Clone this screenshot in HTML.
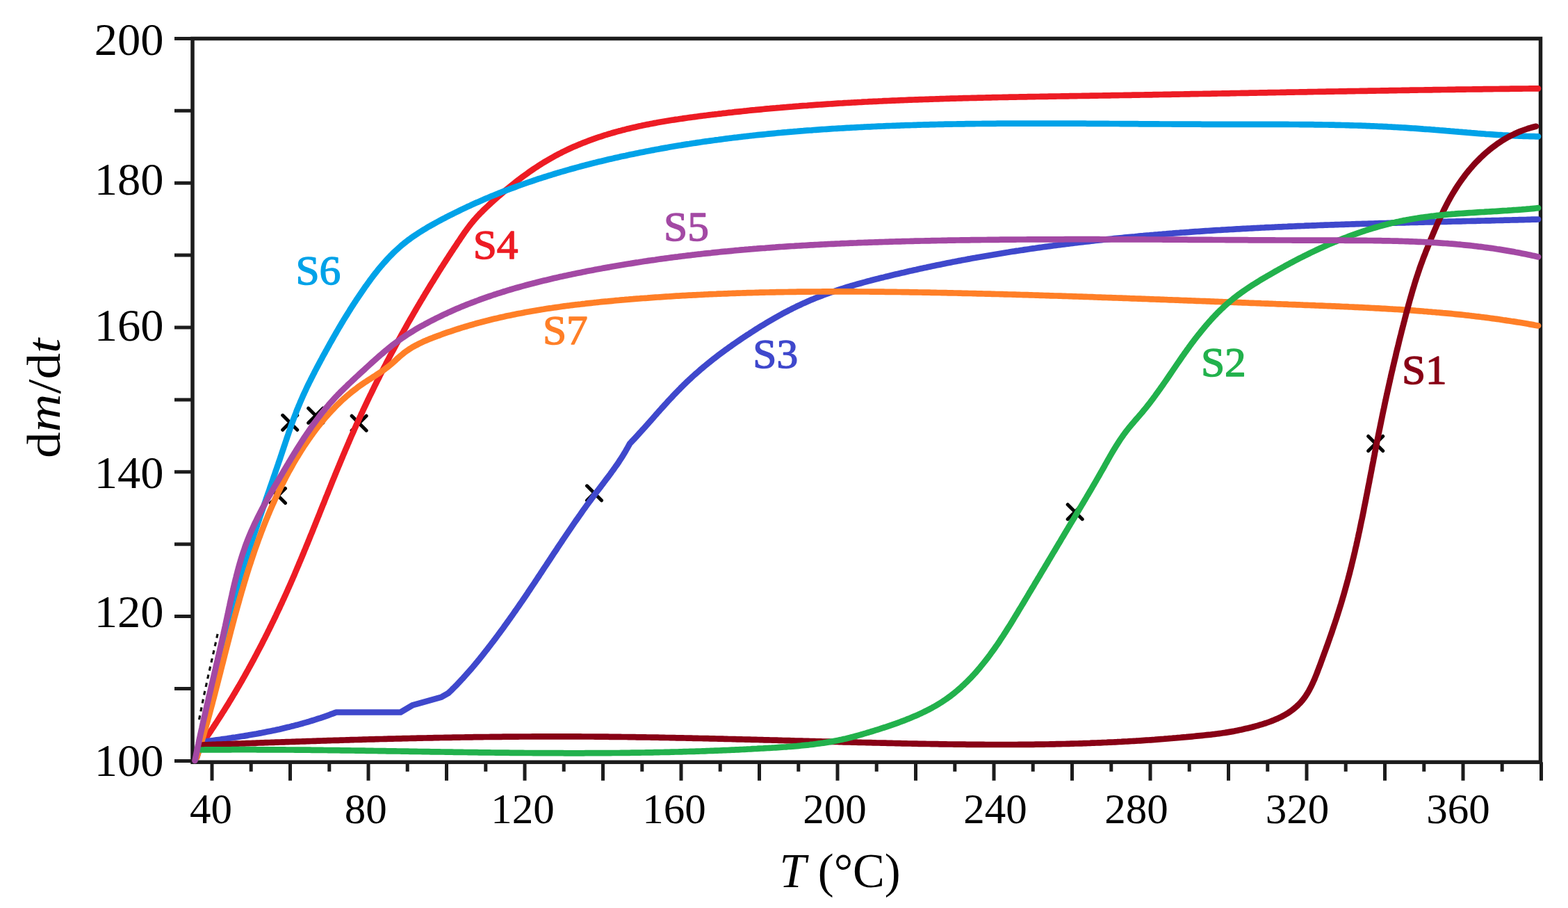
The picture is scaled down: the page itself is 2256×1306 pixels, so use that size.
<!DOCTYPE html>
<html><head><meta charset="utf-8"><title>dm/dt vs T</title>
<style>
html,body{margin:0;padding:0;background:#fff;overflow:hidden;}
#c{position:relative;width:2256px;height:1306px;overflow:hidden;background:#fff;}
#c svg{position:absolute;left:0;top:0;display:block;}
</style></head><body><div id="c">

<svg xmlns="http://www.w3.org/2000/svg" width="2256" height="1306" viewBox="0 0 2256 1306">
<rect x="0" y="0" width="2256" height="1306" fill="#ffffff"/>
<path d="M251,1094.4 H277.0 M251,990.5 H277.0 M251,886.6 H277.0 M251,782.7 H277.0 M251,678.8 H277.0 M251,574.9 H277.0 M251,471.0 H277.0 M251,367.1 H277.0 M251,263.2 H277.0 M251,159.3 H277.0 M251,55.4 H277.0 M305.0,1096.2 V1122.7 M361.2,1096.2 V1109.7 M417.5,1096.2 V1122.7 M473.8,1096.2 V1109.7 M530.0,1096.2 V1122.7 M586.2,1096.2 V1109.7 M642.5,1096.2 V1122.7 M698.8,1096.2 V1109.7 M755.0,1096.2 V1122.7 M811.2,1096.2 V1109.7 M867.5,1096.2 V1122.7 M923.8,1096.2 V1109.7 M980.0,1096.2 V1122.7 M1036.2,1096.2 V1109.7 M1092.5,1096.2 V1122.7 M1148.8,1096.2 V1109.7 M1205.0,1096.2 V1122.7 M1261.2,1096.2 V1109.7 M1317.5,1096.2 V1122.7 M1373.8,1096.2 V1109.7 M1430.0,1096.2 V1122.7 M1486.2,1096.2 V1109.7 M1542.5,1096.2 V1122.7 M1598.8,1096.2 V1109.7 M1655.0,1096.2 V1122.7 M1711.2,1096.2 V1109.7 M1767.5,1096.2 V1122.7 M1823.8,1096.2 V1109.7 M1880.0,1096.2 V1122.7 M1936.2,1096.2 V1109.7 M1992.5,1096.2 V1122.7 M2048.8,1096.2 V1109.7 M2105.0,1096.2 V1122.7 M2161.2,1096.2 V1109.7 M2217.5,1096.2 V1122.7" stroke="#1c1c1c" stroke-width="5" fill="none"/>
<rect x="277.0" y="55.5" width="1939.5" height="1040.7" stroke="#1c1c1c" stroke-width="5.5" fill="none"/>
<path d="M406.7,597.3 L427.7,618.3 M427.7,597.3 L406.7,618.3 M443.7,587.2 L464.7,608.2 M464.7,587.2 L443.7,608.2 M506.1,598.2 L527.1,619.2 M527.1,598.2 L506.1,619.2 M389.5,702.5 L410.5,723.5 M410.5,702.5 L389.5,723.5 M844.5,698.8 L865.5,719.8 M865.5,698.8 L844.5,719.8 M1536.2,725.7 L1557.2,746.7 M1557.2,725.7 L1536.2,746.7 M1968.7,627.4 L1989.7,648.4 M1989.7,627.4 L1968.7,648.4" stroke="#000" stroke-width="5.0" fill="none" stroke-linecap="round"/>
<path d="M286.5,1035 L293.5,1000 L300.5,968 L308,935 L313.5,910" stroke="#111" stroke-width="3.2" fill="none" stroke-dasharray="6 6"/>
<path d="M294.0,1065.0 L295.7,1062.5 L297.4,1060.0 L299.1,1057.6 L300.8,1055.1 L302.5,1052.6 L304.1,1050.1 L305.8,1047.6 L307.5,1045.0 L309.1,1042.5 L310.8,1040.0 L312.4,1037.5 L314.0,1035.0 L315.7,1032.4 L317.3,1029.9 L318.9,1027.4 L320.5,1024.8 L322.1,1022.3 L323.7,1019.7 L325.3,1017.2 L326.9,1014.6 L328.5,1012.1 L330.0,1009.5 L331.6,1006.9 L333.1,1004.4 L334.7,1001.8 L336.2,999.2 L337.8,996.6 L339.3,994.1 L340.8,991.5 L342.3,988.9 L343.9,986.3 L345.4,983.7 L346.9,981.1 L348.4,978.5 L349.8,975.9 L351.3,973.3 L352.8,970.6 L354.3,968.0 L355.7,965.4 L357.2,962.8 L358.6,960.1 L360.1,957.5 L361.5,954.9 L363.0,952.2 L364.4,949.6 L365.8,947.0 L367.2,944.3 L368.6,941.7 L370.0,939.0 L371.4,936.3 L372.8,933.7 L374.2,931.0 L375.6,928.4 L377.0,925.7 L378.3,923.0 L379.7,920.3 L381.1,917.7 L382.4,915.0 L383.8,912.3 L385.1,909.6 L386.4,906.9 L387.8,904.2 L389.1,901.5 L390.4,898.8 L391.7,896.1 L393.1,893.4 L394.4,890.7 L395.7,888.0 L397.0,885.3 L398.2,882.6 L399.5,879.9 L400.8,877.2 L402.1,874.5 L403.3,871.7 L404.6,869.0 L405.9,866.3 L407.1,863.6 L408.4,860.8 L409.6,858.1 L410.9,855.4 L412.1,852.6 L413.3,849.9 L414.5,847.1 L415.8,844.4 L417.0,841.6 L418.2,838.9 L419.4,836.1 L420.6,833.4 L421.8,830.6 L423.0,827.9 L424.2,825.1 L425.3,822.4 L426.5,819.6 L427.7,816.8 L428.9,814.1 L430.0,811.3 L431.2,808.5 L432.4,805.8 L433.5,803.0 L434.7,800.2 L435.8,797.5 L437.0,794.7 L438.1,791.9 L439.3,789.1 L440.4,786.3 L441.6,783.6 L442.7,780.8 L443.8,778.0 L445.0,775.2 L446.1,772.4 L447.2,769.7 L448.4,766.9 L449.5,764.1 L450.6,761.3 L451.7,758.5 L452.9,755.7 L454.0,752.9 L455.1,750.2 L456.2,747.4 L457.3,744.6 L458.5,741.8 L459.6,739.0 L460.7,736.2 L461.8,733.4 L462.9,730.6 L464.0,727.8 L465.2,725.1 L466.3,722.3 L467.4,719.5 L468.5,716.7 L469.6,713.9 L470.8,711.1 L471.9,708.3 L473.0,705.5 L474.1,702.8 L475.3,700.0 L476.4,697.2 L477.5,694.4 L478.6,691.6 L479.8,688.8 L480.9,686.1 L482.0,683.3 L483.2,680.5 L484.3,677.7 L485.5,674.9 L486.6,672.2 L487.8,669.4 L488.9,666.6 L490.1,663.8 L491.2,661.1 L492.4,658.3 L493.5,655.5 L494.7,652.8 L495.9,650.0 L497.0,647.2 L498.2,644.5 L499.4,641.7 L500.6,638.9 L501.8,636.2 L502.9,633.4 L504.1,630.7 L505.3,627.9 L506.5,625.2 L507.8,622.4 L509.0,619.7 L510.2,616.9 L511.4,614.2 L512.6,611.4 L513.9,608.7 L515.1,606.0 L516.4,603.2 L517.6,600.5 L518.9,597.8 L520.1,595.0 L521.4,592.3 L522.6,589.6 L523.9,586.9 L525.2,584.2 L526.5,581.4 L527.8,578.7 L529.0,576.0 L530.3,573.3 L531.6,570.6 L532.9,567.9 L534.3,565.2 L535.6,562.5 L536.9,559.8 L538.2,557.1 L539.5,554.4 L540.9,551.7 L542.2,549.0 L543.6,546.3 L544.9,543.7 L546.2,541.0 L547.6,538.3 L549.0,535.6 L550.3,533.0 L551.7,530.3 L553.1,527.6 L554.5,524.9 L555.8,522.3 L557.2,519.6 L558.6,516.9 L560.0,514.3 L561.4,511.6 L562.8,509.0 L564.2,506.3 L565.7,503.7 L567.1,501.0 L568.5,498.4 L569.9,495.7 L571.4,493.1 L572.8,490.5 L574.2,487.8 L575.7,485.2 L577.1,482.6 L578.6,479.9 L580.1,477.3 L581.5,474.7 L583.0,472.1 L584.5,469.5 L585.9,466.8 L587.4,464.2 L588.9,461.6 L590.4,459.0 L591.9,456.4 L593.4,453.8 L594.9,451.2 L596.4,448.6 L597.9,446.0 L599.4,443.4 L600.9,440.8 L602.5,438.2 L604.0,435.6 L605.5,433.0 L607.1,430.5 L608.6,427.9 L610.2,425.3 L611.7,422.7 L613.3,420.2 L614.8,417.6 L616.4,415.0 L617.9,412.5 L619.5,409.9 L621.1,407.3 L622.7,404.8 L624.3,402.2 L625.8,399.7 L627.4,397.1 L629.0,394.6 L630.6,392.0 L632.2,389.5 L633.8,386.9 L635.4,384.4 L637.1,381.9 L638.7,379.3 L640.3,376.8 L641.9,374.3 L643.6,371.8 L645.2,369.2 L646.8,366.7 L648.5,364.2 L650.1,361.7 L651.8,359.2 L653.4,356.7 L655.1,354.2 L656.8,351.7 L658.4,349.1 L660.1,346.7 L661.8,344.2 L663.4,341.7 L665.1,339.2 L666.8,336.7 L668.5,334.2 L670.3,331.8 L672.0,329.4 L673.8,327.0 L675.6,324.6 L677.4,322.3 L679.3,320.0 L681.1,317.7 L683.1,315.5 L685.0,313.3 L687.0,311.1 L689.0,309.0 L691.0,306.8 L693.1,304.8 L695.2,302.7 L697.3,300.6 L699.4,298.6 L701.6,296.6 L703.7,294.6 L705.9,292.5 L708.1,290.5 L710.3,288.5 L712.6,286.5 L714.8,284.5 L717.1,282.5 L719.3,280.6 L721.6,278.6 L723.9,276.6 L726.3,274.6 L728.6,272.7 L730.9,270.8 L733.3,268.8 L735.7,266.9 L738.0,265.0 L740.4,263.1 L742.8,261.2 L745.3,259.3 L747.7,257.5 L750.1,255.6 L752.6,253.8 L755.1,252.0 L757.6,250.2 L760.0,248.4 L762.5,246.7 L765.1,244.9 L767.6,243.2 L770.1,241.5 L772.7,239.8 L775.2,238.1 L777.8,236.5 L780.4,234.9 L783.0,233.3 L785.6,231.7 L788.2,230.2 L790.8,228.7 L793.4,227.2 L796.1,225.7 L798.7,224.2 L801.4,222.8 L804.0,221.4 L806.7,220.1 L809.4,218.7 L812.1,217.4 L814.7,216.1 L817.5,214.8 L820.2,213.5 L822.9,212.3 L825.6,211.1 L828.4,209.9 L831.1,208.7 L833.8,207.6 L836.6,206.5 L839.4,205.3 L842.1,204.3 L844.9,203.2 L847.7,202.1 L850.5,201.1 L853.3,200.1 L856.1,199.1 L858.9,198.1 L861.8,197.2 L864.6,196.3 L867.4,195.3 L870.2,194.4 L873.1,193.6 L875.9,192.7 L878.8,191.9 L881.7,191.0 L884.5,190.2 L887.4,189.4 L890.3,188.6 L893.2,187.9 L896.0,187.1 L898.9,186.4 L901.8,185.6 L904.7,184.9 L907.6,184.2 L910.6,183.6 L913.5,182.9 L916.4,182.2 L919.3,181.6 L922.2,181.0 L925.2,180.3 L928.1,179.7 L931.0,179.1 L934.0,178.6 L936.9,178.0 L939.9,177.4 L942.8,176.9 L945.8,176.3 L948.7,175.8 L951.7,175.3 L954.7,174.8 L957.6,174.3 L960.6,173.8 L963.6,173.3 L966.5,172.8 L969.5,172.4 L972.5,171.9 L975.5,171.5 L978.4,171.0 L981.4,170.6 L984.4,170.1 L987.4,169.7 L990.4,169.3 L993.4,168.9 L996.4,168.5 L999.3,168.1 L1002.3,167.7 L1005.3,167.3 L1008.3,166.9 L1011.3,166.5 L1014.3,166.2 L1017.3,165.8 L1020.3,165.4 L1023.3,165.0 L1026.3,164.7 L1029.2,164.3 L1032.2,164.0 L1035.2,163.6 L1038.2,163.3 L1041.2,162.9 L1044.2,162.6 L1047.2,162.2 L1050.2,161.9 L1053.2,161.6 L1056.2,161.2 L1059.2,160.9 L1062.2,160.6 L1065.2,160.3 L1068.2,160.0 L1071.2,159.7 L1074.1,159.4 L1077.1,159.0 L1080.1,158.7 L1083.1,158.4 L1086.1,158.2 L1089.1,157.9 L1092.1,157.6 L1095.1,157.3 L1098.1,157.0 L1101.1,156.7 L1104.1,156.4 L1107.1,156.2 L1110.1,155.9 L1113.1,155.6 L1116.1,155.4 L1119.1,155.1 L1122.1,154.9 L1125.1,154.6 L1128.1,154.3 L1131.1,154.1 L1134.1,153.8 L1137.1,153.6 L1140.1,153.4 L1143.1,153.1 L1146.1,152.9 L1149.1,152.7 L1152.1,152.4 L1155.1,152.2 L1158.1,152.0 L1161.1,151.8 L1164.1,151.5 L1167.1,151.3 L1170.1,151.1 L1173.0,150.9 L1176.0,150.7 L1179.0,150.5 L1182.0,150.3 L1185.0,150.1 L1188.0,149.9 L1191.0,149.7 L1194.0,149.5 L1197.0,149.3 L1200.0,149.1 L1203.0,148.9 L1206.0,148.7 L1209.0,148.5 L1212.1,148.4 L1215.1,148.2 L1218.1,148.0 L1221.1,147.8 L1224.1,147.7 L1227.1,147.5 L1230.1,147.3 L1233.1,147.2 L1236.1,147.0 L1239.1,146.9 L1242.1,146.7 L1245.1,146.5 L1248.1,146.4 L1251.1,146.2 L1254.1,146.1 L1257.1,145.9 L1260.1,145.8 L1263.1,145.7 L1266.1,145.5 L1269.1,145.4 L1272.1,145.2 L1275.1,145.1 L1278.1,145.0 L1281.1,144.8 L1284.1,144.7 L1287.1,144.6 L1290.1,144.5 L1293.1,144.3 L1296.1,144.2 L1299.1,144.1 L1302.1,144.0 L1305.1,143.8 L1308.1,143.7 L1311.1,143.6 L1314.1,143.5 L1317.1,143.4 L1320.1,143.3 L1323.1,143.2 L1326.2,143.1 L1329.2,143.0 L1332.2,142.9 L1335.2,142.8 L1338.2,142.7 L1341.2,142.6 L1344.2,142.5 L1347.2,142.4 L1350.2,142.3 L1353.2,142.2 L1356.2,142.1 L1359.2,142.0 L1362.2,141.9 L1365.2,141.8 L1368.2,141.7 L1371.2,141.6 L1374.2,141.6 L1377.2,141.5 L1380.2,141.4 L1383.2,141.3 L1386.3,141.2 L1389.3,141.2 L1392.3,141.1 L1395.3,141.0 L1398.3,140.9 L1401.3,140.9 L1404.3,140.8 L1407.3,140.7 L1410.3,140.6 L1413.3,140.6 L1416.3,140.5 L1419.3,140.4 L1422.3,140.4 L1425.3,140.3 L1428.3,140.2 L1431.3,140.2 L1434.3,140.1 L1437.4,140.0 L1440.4,140.0 L1443.4,139.9 L1446.4,139.9 L1449.4,139.8 L1452.4,139.7 L1455.4,139.7 L1458.4,139.6 L1461.4,139.6 L1464.4,139.5 L1467.4,139.4 L1470.4,139.4 L1473.4,139.3 L1476.4,139.3 L1479.4,139.2 L1482.5,139.2 L1485.5,139.1 L1488.5,139.1 L1491.5,139.0 L1494.5,139.0 L1497.5,138.9 L1500.5,138.9 L1503.5,138.8 L1506.5,138.8 L1509.5,138.7 L1512.5,138.7 L1515.5,138.6 L1518.5,138.6 L1521.5,138.5 L1524.5,138.5 L1527.6,138.4 L1530.6,138.4 L1533.6,138.3 L1536.6,138.3 L1539.6,138.2 L1542.6,138.2 L1545.6,138.1 L1548.6,138.1 L1551.6,138.0 L1554.6,138.0 L1557.6,137.9 L1560.6,137.9 L1563.6,137.8 L1566.6,137.8 L1569.6,137.7 L1572.7,137.7 L1575.7,137.6 L1578.7,137.6 L1581.7,137.5 L1584.7,137.5 L1587.7,137.4 L1590.7,137.4 L1593.7,137.3 L1596.7,137.3 L1599.7,137.2 L1602.7,137.2 L1605.7,137.1 L1608.7,137.1 L1611.7,137.0 L1614.7,137.0 L1617.8,136.9 L1620.8,136.9 L1623.8,136.8 L1626.8,136.8 L1629.8,136.7 L1632.8,136.7 L1635.8,136.6 L1638.8,136.6 L1641.8,136.5 L1644.8,136.5 L1647.8,136.4 L1650.8,136.4 L1653.8,136.3 L1656.8,136.3 L1659.8,136.2 L1662.8,136.1 L1665.9,136.1 L1668.9,136.0 L1671.9,136.0 L1674.9,135.9 L1677.9,135.9 L1680.9,135.8 L1683.9,135.8 L1686.9,135.7 L1689.9,135.7 L1692.9,135.6 L1695.9,135.6 L1698.9,135.5 L1701.9,135.5 L1704.9,135.4 L1707.9,135.3 L1710.9,135.3 L1714.0,135.2 L1717.0,135.2 L1720.0,135.1 L1723.0,135.1 L1726.0,135.0 L1729.0,135.0 L1732.0,134.9 L1735.0,134.9 L1738.0,134.8 L1741.0,134.8 L1744.0,134.7 L1747.0,134.6 L1750.0,134.6 L1753.0,134.5 L1756.0,134.5 L1759.0,134.4 L1762.1,134.4 L1765.1,134.3 L1768.1,134.3 L1771.1,134.2 L1774.1,134.2 L1777.1,134.1 L1780.1,134.0 L1783.1,134.0 L1786.1,133.9 L1789.1,133.9 L1792.1,133.8 L1795.1,133.8 L1798.1,133.7 L1801.1,133.7 L1804.1,133.6 L1807.1,133.6 L1810.1,133.5 L1813.2,133.4 L1816.2,133.4 L1819.2,133.3 L1822.2,133.3 L1825.2,133.2 L1828.2,133.2 L1831.2,133.1 L1834.2,133.1 L1837.2,133.0 L1840.2,133.0 L1843.2,132.9 L1846.2,132.8 L1849.2,132.8 L1852.2,132.7 L1855.2,132.7 L1858.2,132.6 L1861.3,132.6 L1864.3,132.5 L1867.3,132.5 L1870.3,132.4 L1873.3,132.4 L1876.3,132.3 L1879.3,132.3 L1882.3,132.2 L1885.3,132.2 L1888.3,132.1 L1891.3,132.0 L1894.3,132.0 L1897.3,131.9 L1900.3,131.9 L1903.3,131.8 L1906.3,131.8 L1909.3,131.7 L1912.4,131.7 L1915.4,131.6 L1918.4,131.6 L1921.4,131.5 L1924.4,131.5 L1927.4,131.4 L1930.4,131.4 L1933.4,131.3 L1936.4,131.3 L1939.4,131.2 L1942.4,131.2 L1945.4,131.1 L1948.4,131.1 L1951.4,131.0 L1954.4,131.0 L1957.4,130.9 L1960.5,130.9 L1963.5,130.8 L1966.5,130.8 L1969.5,130.7 L1972.5,130.7 L1975.5,130.6 L1978.5,130.6 L1981.5,130.5 L1984.5,130.5 L1987.5,130.4 L1990.5,130.4 L1993.5,130.3 L1996.5,130.3 L1999.5,130.2 L2002.5,130.2 L2005.5,130.1 L2008.5,130.1 L2011.6,130.0 L2014.6,130.0 L2017.6,129.9 L2020.6,129.9 L2023.6,129.8 L2026.6,129.8 L2029.6,129.7 L2032.6,129.7 L2035.6,129.6 L2038.6,129.6 L2041.6,129.5 L2044.6,129.5 L2047.6,129.5 L2050.6,129.4 L2053.6,129.4 L2056.6,129.3 L2059.7,129.3 L2062.7,129.2 L2065.7,129.2 L2068.7,129.1 L2071.7,129.1 L2074.7,129.0 L2077.7,129.0 L2080.7,129.0 L2083.7,128.9 L2086.7,128.9 L2089.7,128.8 L2092.7,128.8 L2095.7,128.7 L2098.7,128.7 L2101.7,128.7 L2104.8,128.6 L2107.8,128.6 L2110.8,128.5 L2113.8,128.5 L2116.8,128.5 L2119.8,128.4 L2122.8,128.4 L2125.8,128.3 L2128.8,128.3 L2131.8,128.3 L2134.8,128.2 L2137.8,128.2 L2140.8,128.1 L2143.8,128.1 L2146.8,128.1 L2149.9,128.0 L2152.9,128.0 L2155.9,128.0 L2158.9,127.9 L2161.9,127.9 L2164.9,127.8 L2167.9,127.8 L2170.9,127.8 L2173.9,127.7 L2176.9,127.7 L2179.9,127.7 L2182.9,127.6 L2185.9,127.6 L2188.9,127.6 L2192.0,127.5 L2195.0,127.5 L2198.0,127.5 L2201.0,127.4 L2204.0,127.4 L2207.0,127.4 L2210.0,127.3 L2213.0,127.3" stroke="#ED1C24" stroke-width="8.7" fill="none" stroke-linecap="round" stroke-linejoin="round"/>
<path d="M283.0,1090.0 L283.9,1087.1 L284.7,1084.3 L285.6,1081.4 L286.4,1078.5 L287.2,1075.6 L288.1,1072.7 L288.9,1069.8 L289.7,1066.9 L290.5,1064.0 L291.3,1061.1 L292.0,1058.2 L292.8,1055.3 L293.6,1052.4 L294.3,1049.5 L295.1,1046.6 L295.8,1043.7 L296.5,1040.8 L297.3,1037.9 L298.0,1035.0 L298.7,1032.1 L299.4,1029.1 L300.1,1026.2 L300.8,1023.3 L301.5,1020.4 L302.2,1017.4 L302.9,1014.5 L303.5,1011.6 L304.2,1008.7 L304.9,1005.7 L305.5,1002.8 L306.2,999.9 L306.9,996.9 L307.5,994.0 L308.2,991.1 L308.8,988.1 L309.5,985.2 L310.1,982.2 L310.8,979.3 L311.4,976.4 L312.0,973.4 L312.7,970.5 L313.3,967.6 L314.0,964.6 L314.6,961.7 L315.2,958.7 L315.9,955.8 L316.5,952.9 L317.1,949.9 L317.8,947.0 L318.4,944.0 L319.0,941.1 L319.7,938.2 L320.3,935.2 L321.0,932.3 L321.6,929.4 L322.3,926.4 L322.9,923.5 L323.6,920.5 L324.2,917.6 L324.9,914.7 L325.5,911.8 L326.2,908.8 L326.9,905.9 L327.6,903.0 L328.2,900.0 L328.9,897.1 L329.6,894.2 L330.3,891.3 L331.0,888.4 L331.7,885.4 L332.4,882.5 L333.1,879.6 L333.8,876.7 L334.6,873.8 L335.3,870.9 L336.1,868.0 L336.8,865.1 L337.6,862.2 L338.3,859.3 L339.1,856.4 L339.9,853.5 L340.7,850.6 L341.5,847.7 L342.3,844.8 L343.1,841.9 L343.9,839.0 L344.7,836.1 L345.5,833.2 L346.4,830.4 L347.2,827.5 L348.0,824.6 L348.9,821.7 L349.8,818.9 L350.6,816.0 L351.5,813.1 L352.4,810.3 L353.3,807.4 L354.1,804.5 L355.0,801.7 L355.9,798.8 L356.8,795.9 L357.7,793.1 L358.6,790.2 L359.6,787.4 L360.5,784.5 L361.4,781.7 L362.3,778.8 L363.3,775.9 L364.2,773.1 L365.1,770.2 L366.1,767.4 L367.0,764.5 L368.0,761.7 L368.9,758.9 L369.9,756.0 L370.8,753.2 L371.8,750.3 L372.8,747.5 L373.7,744.6 L374.7,741.8 L375.7,738.9 L376.6,736.1 L377.6,733.3 L378.6,730.4 L379.5,727.6 L380.5,724.7 L381.5,721.9 L382.5,719.0 L383.4,716.2 L384.4,713.4 L385.4,710.5 L386.4,707.7 L387.4,704.8 L388.3,702.0 L389.3,699.2 L390.3,696.3 L391.3,693.5 L392.3,690.6 L393.2,687.8 L394.2,684.9 L395.2,682.1 L396.2,679.2 L397.1,676.4 L398.1,673.6 L399.1,670.7 L400.1,667.9 L401.0,665.0 L402.0,662.2 L403.0,659.3 L403.9,656.5 L404.9,653.6 L405.8,650.8 L406.8,647.9 L407.8,645.0 L408.7,642.2 L409.7,639.3 L410.6,636.5 L411.6,633.6 L412.5,630.8 L413.5,627.9 L414.5,625.1 L415.4,622.2 L416.4,619.4 L417.4,616.6 L418.4,613.7 L419.4,610.9 L420.4,608.1 L421.4,605.3 L422.5,602.4 L423.5,599.6 L424.6,596.8 L425.7,594.0 L426.7,591.2 L427.8,588.5 L429.0,585.7 L430.1,582.9 L431.3,580.2 L432.4,577.4 L433.6,574.7 L434.8,572.0 L436.0,569.2 L437.3,566.5 L438.5,563.8 L439.8,561.1 L441.0,558.4 L442.3,555.7 L443.6,553.0 L444.9,550.3 L446.3,547.7 L447.6,545.0 L449.0,542.3 L450.3,539.6 L451.7,537.0 L453.0,534.3 L454.4,531.7 L455.8,529.0 L457.2,526.4 L458.6,523.7 L460.0,521.1 L461.4,518.4 L462.9,515.8 L464.3,513.1 L465.7,510.5 L467.2,507.9 L468.6,505.2 L470.1,502.6 L471.5,500.0 L473.0,497.3 L474.4,494.7 L475.9,492.1 L477.4,489.5 L478.9,486.8 L480.4,484.2 L481.9,481.6 L483.4,479.0 L484.9,476.4 L486.4,473.8 L487.9,471.2 L489.5,468.6 L491.0,466.0 L492.6,463.4 L494.1,460.8 L495.7,458.2 L497.3,455.7 L498.9,453.1 L500.5,450.5 L502.1,448.0 L503.7,445.4 L505.3,442.8 L506.9,440.3 L508.6,437.8 L510.2,435.2 L511.9,432.7 L513.5,430.2 L515.2,427.7 L516.9,425.2 L518.6,422.7 L520.3,420.2 L522.0,417.7 L523.7,415.2 L525.4,412.7 L527.2,410.3 L529.0,407.8 L530.7,405.4 L532.5,402.9 L534.3,400.5 L536.1,398.1 L537.9,395.7 L539.8,393.3 L541.7,391.0 L543.5,388.6 L545.4,386.3 L547.3,384.0 L549.3,381.7 L551.2,379.4 L553.2,377.2 L555.2,375.0 L557.2,372.8 L559.3,370.6 L561.3,368.4 L563.4,366.3 L565.5,364.2 L567.6,362.1 L569.8,360.1 L572.0,358.1 L574.2,356.1 L576.4,354.1 L578.7,352.2 L581.0,350.3 L583.3,348.5 L585.7,346.6 L588.0,344.8 L590.5,343.1 L592.9,341.3 L595.3,339.6 L597.8,338.0 L600.3,336.3 L602.8,334.7 L605.3,333.1 L607.9,331.5 L610.4,329.9 L613.0,328.4 L615.6,326.8 L618.2,325.3 L620.8,323.9 L623.5,322.4 L626.1,320.9 L628.7,319.5 L631.4,318.0 L634.0,316.6 L636.7,315.2 L639.4,313.8 L642.0,312.4 L644.7,311.0 L647.4,309.7 L650.1,308.3 L652.8,307.0 L655.5,305.6 L658.2,304.3 L660.9,303.0 L663.6,301.7 L666.3,300.4 L669.0,299.1 L671.7,297.8 L674.5,296.6 L677.2,295.3 L679.9,294.1 L682.7,292.8 L685.4,291.6 L688.2,290.4 L690.9,289.2 L693.7,288.0 L696.4,286.8 L699.2,285.6 L701.9,284.5 L704.7,283.3 L707.5,282.1 L710.3,281.0 L713.1,279.9 L715.8,278.8 L718.6,277.6 L721.4,276.5 L724.2,275.4 L727.0,274.4 L729.8,273.3 L732.6,272.2 L735.4,271.2 L738.3,270.1 L741.1,269.1 L743.9,268.0 L746.7,267.0 L749.5,266.0 L752.4,265.0 L755.2,264.0 L758.0,263.0 L760.9,262.0 L763.7,261.1 L766.6,260.1 L769.4,259.1 L772.3,258.2 L775.1,257.2 L778.0,256.3 L780.8,255.4 L783.7,254.5 L786.6,253.6 L789.4,252.7 L792.3,251.8 L795.2,250.9 L798.1,250.0 L800.9,249.1 L803.8,248.3 L806.7,247.4 L809.6,246.6 L812.5,245.8 L815.4,244.9 L818.3,244.1 L821.1,243.3 L824.0,242.5 L826.9,241.7 L829.8,240.9 L832.8,240.1 L835.7,239.3 L838.6,238.5 L841.5,237.8 L844.4,237.0 L847.3,236.3 L850.2,235.5 L853.1,234.8 L856.0,234.1 L859.0,233.3 L861.9,232.6 L864.8,231.9 L867.7,231.2 L870.7,230.5 L873.6,229.8 L876.5,229.1 L879.5,228.4 L882.4,227.8 L885.3,227.1 L888.3,226.4 L891.2,225.8 L894.1,225.1 L897.1,224.5 L900.0,223.9 L902.9,223.2 L905.9,222.6 L908.8,222.0 L911.8,221.4 L914.7,220.8 L917.7,220.2 L920.6,219.6 L923.6,219.0 L926.5,218.4 L929.5,217.8 L932.4,217.3 L935.4,216.7 L938.3,216.1 L941.3,215.6 L944.2,215.0 L947.2,214.5 L950.1,213.9 L953.1,213.4 L956.1,212.9 L959.0,212.4 L962.0,211.8 L964.9,211.3 L967.9,210.8 L970.9,210.3 L973.8,209.8 L976.8,209.3 L979.8,208.9 L982.7,208.4 L985.7,207.9 L988.7,207.4 L991.6,207.0 L994.6,206.5 L997.6,206.0 L1000.5,205.6 L1003.5,205.1 L1006.5,204.7 L1009.4,204.3 L1012.4,203.8 L1015.4,203.4 L1018.4,203.0 L1021.3,202.6 L1024.3,202.2 L1027.3,201.8 L1030.3,201.3 L1033.3,201.0 L1036.2,200.6 L1039.2,200.2 L1042.2,199.8 L1045.2,199.4 L1048.2,199.0 L1051.1,198.7 L1054.1,198.3 L1057.1,197.9 L1060.1,197.6 L1063.1,197.2 L1066.0,196.9 L1069.0,196.5 L1072.0,196.2 L1075.0,195.8 L1078.0,195.5 L1081.0,195.2 L1084.0,194.8 L1086.9,194.5 L1089.9,194.2 L1092.9,193.9 L1095.9,193.6 L1098.9,193.3 L1101.9,193.0 L1104.9,192.7 L1107.9,192.4 L1110.9,192.1 L1113.8,191.8 L1116.8,191.5 L1119.8,191.2 L1122.8,191.0 L1125.8,190.7 L1128.8,190.4 L1131.8,190.2 L1134.8,189.9 L1137.8,189.6 L1140.8,189.4 L1143.8,189.1 L1146.8,188.9 L1149.8,188.6 L1152.8,188.4 L1155.8,188.2 L1158.7,187.9 L1161.7,187.7 L1164.7,187.5 L1167.7,187.3 L1170.7,187.0 L1173.7,186.8 L1176.7,186.6 L1179.7,186.4 L1182.7,186.2 L1185.7,186.0 L1188.7,185.8 L1191.7,185.6 L1194.7,185.4 L1197.7,185.2 L1200.7,185.0 L1203.7,184.8 L1206.7,184.6 L1209.7,184.5 L1212.7,184.3 L1215.7,184.1 L1218.7,183.9 L1221.7,183.8 L1224.7,183.6 L1227.7,183.5 L1230.7,183.3 L1233.7,183.1 L1236.7,183.0 L1239.7,182.8 L1242.7,182.7 L1245.7,182.5 L1248.7,182.4 L1251.7,182.3 L1254.7,182.1 L1257.7,182.0 L1260.7,181.8 L1263.7,181.7 L1266.7,181.6 L1269.7,181.5 L1272.7,181.3 L1275.7,181.2 L1278.7,181.1 L1281.7,181.0 L1284.7,180.9 L1287.8,180.8 L1290.8,180.7 L1293.8,180.6 L1296.8,180.4 L1299.8,180.3 L1302.8,180.2 L1305.8,180.1 L1308.8,180.1 L1311.8,180.0 L1314.8,179.9 L1317.8,179.8 L1320.8,179.7 L1323.8,179.6 L1326.8,179.5 L1329.8,179.4 L1332.8,179.4 L1335.8,179.3 L1338.8,179.2 L1341.8,179.1 L1344.8,179.1 L1347.8,179.0 L1350.8,178.9 L1353.8,178.9 L1356.8,178.8 L1359.8,178.7 L1362.8,178.7 L1365.9,178.6 L1368.9,178.6 L1371.9,178.5 L1374.9,178.5 L1377.9,178.4 L1380.9,178.4 L1383.9,178.3 L1386.9,178.3 L1389.9,178.2 L1392.9,178.2 L1395.9,178.1 L1398.9,178.1 L1401.9,178.1 L1404.9,178.0 L1407.9,178.0 L1410.9,178.0 L1413.9,177.9 L1416.9,177.9 L1419.9,177.9 L1422.9,177.8 L1426.0,177.8 L1429.0,177.8 L1432.0,177.8 L1435.0,177.7 L1438.0,177.7 L1441.0,177.7 L1444.0,177.7 L1447.0,177.7 L1450.0,177.7 L1453.0,177.6 L1456.0,177.6 L1459.0,177.6 L1462.0,177.6 L1465.0,177.6 L1468.0,177.6 L1471.0,177.6 L1474.0,177.6 L1477.1,177.6 L1480.1,177.6 L1483.1,177.6 L1486.1,177.6 L1489.1,177.6 L1492.1,177.6 L1495.1,177.6 L1498.1,177.6 L1501.1,177.6 L1504.1,177.6 L1507.1,177.6 L1510.1,177.6 L1513.1,177.6 L1516.1,177.6 L1519.1,177.6 L1522.1,177.6 L1525.2,177.6 L1528.2,177.6 L1531.2,177.6 L1534.2,177.6 L1537.2,177.6 L1540.2,177.7 L1543.2,177.7 L1546.2,177.7 L1549.2,177.7 L1552.2,177.7 L1555.2,177.7 L1558.2,177.7 L1561.2,177.7 L1564.2,177.8 L1567.2,177.8 L1570.3,177.8 L1573.3,177.8 L1576.3,177.8 L1579.3,177.8 L1582.3,177.9 L1585.3,177.9 L1588.3,177.9 L1591.3,177.9 L1594.3,177.9 L1597.3,178.0 L1600.3,178.0 L1603.3,178.0 L1606.3,178.0 L1609.3,178.0 L1612.3,178.1 L1615.4,178.1 L1618.4,178.1 L1621.4,178.1 L1624.4,178.1 L1627.4,178.2 L1630.4,178.2 L1633.4,178.2 L1636.4,178.2 L1639.4,178.3 L1642.4,178.3 L1645.4,178.3 L1648.4,178.3 L1651.4,178.3 L1654.4,178.4 L1657.4,178.4 L1660.5,178.4 L1663.5,178.4 L1666.5,178.4 L1669.5,178.5 L1672.5,178.5 L1675.5,178.5 L1678.5,178.5 L1681.5,178.5 L1684.5,178.5 L1687.5,178.6 L1690.5,178.6 L1693.5,178.6 L1696.5,178.6 L1699.5,178.6 L1702.5,178.6 L1705.5,178.7 L1708.6,178.7 L1711.6,178.7 L1714.6,178.7 L1717.6,178.7 L1720.6,178.7 L1723.6,178.7 L1726.6,178.7 L1729.6,178.8 L1732.6,178.8 L1735.6,178.8 L1738.6,178.8 L1741.6,178.8 L1744.6,178.8 L1747.6,178.8 L1750.6,178.8 L1753.6,178.8 L1756.6,178.8 L1759.7,178.8 L1762.7,178.8 L1765.7,178.8 L1768.7,178.8 L1771.7,178.8 L1774.7,178.8 L1777.7,178.8 L1780.7,178.8 L1783.7,178.8 L1786.7,178.8 L1789.7,178.8 L1792.7,178.8 L1795.7,178.8 L1798.7,178.8 L1801.7,178.8 L1804.7,178.8 L1807.7,178.8 L1810.7,178.8 L1813.7,178.8 L1816.8,178.8 L1819.8,178.8 L1822.8,178.9 L1825.8,178.9 L1828.8,178.9 L1831.8,178.9 L1834.8,178.9 L1837.8,178.9 L1840.8,178.9 L1843.8,178.9 L1846.8,178.9 L1849.8,178.9 L1852.8,178.9 L1855.8,179.0 L1858.8,179.0 L1861.8,179.0 L1864.8,179.0 L1867.8,179.0 L1870.8,179.1 L1873.8,179.1 L1876.8,179.1 L1879.8,179.1 L1882.8,179.2 L1885.9,179.2 L1888.9,179.2 L1891.9,179.3 L1894.9,179.3 L1897.9,179.4 L1900.9,179.4 L1903.9,179.5 L1906.9,179.5 L1909.9,179.5 L1912.9,179.6 L1915.9,179.7 L1918.9,179.7 L1921.9,179.8 L1924.9,179.8 L1927.9,179.9 L1930.9,180.0 L1933.9,180.0 L1936.9,180.1 L1939.9,180.2 L1942.9,180.3 L1945.9,180.4 L1948.9,180.5 L1951.9,180.5 L1954.9,180.6 L1957.9,180.7 L1960.9,180.8 L1963.9,180.9 L1966.9,181.1 L1969.9,181.2 L1972.9,181.3 L1976.0,181.4 L1979.0,181.5 L1982.0,181.7 L1985.0,181.8 L1988.0,181.9 L1991.0,182.1 L1994.0,182.2 L1997.0,182.4 L2000.0,182.5 L2003.0,182.7 L2006.0,182.8 L2009.0,183.0 L2012.0,183.2 L2015.0,183.3 L2018.0,183.5 L2021.0,183.7 L2024.0,183.9 L2027.0,184.1 L2030.0,184.3 L2033.0,184.5 L2036.0,184.7 L2039.0,184.9 L2042.0,185.1 L2045.0,185.3 L2048.0,185.6 L2051.0,185.8 L2054.0,186.0 L2057.0,186.2 L2060.0,186.5 L2063.0,186.7 L2066.0,187.0 L2069.0,187.2 L2072.0,187.5 L2075.0,187.7 L2078.0,187.9 L2081.0,188.2 L2084.0,188.4 L2087.0,188.7 L2090.0,188.9 L2093.0,189.2 L2096.0,189.4 L2099.0,189.7 L2102.0,189.9 L2105.0,190.2 L2108.0,190.4 L2111.0,190.7 L2114.0,190.9 L2117.0,191.2 L2120.0,191.4 L2123.0,191.6 L2126.0,191.9 L2129.0,192.1 L2132.0,192.3 L2135.0,192.5 L2138.0,192.8 L2141.0,193.0 L2144.0,193.2 L2147.0,193.4 L2150.0,193.6 L2153.0,193.8 L2156.0,194.0 L2159.0,194.2 L2162.0,194.4 L2165.0,194.5 L2168.0,194.7 L2171.0,194.9 L2174.0,195.0 L2177.0,195.2 L2180.0,195.3 L2183.0,195.4 L2186.0,195.6 L2189.0,195.7 L2192.0,195.8 L2195.0,195.9 L2198.0,196.0 L2201.0,196.1 L2204.0,196.1 L2207.0,196.2 L2210.0,196.3 L2213.0,196.3" stroke="#00A2E8" stroke-width="8.7" fill="none" stroke-linecap="round" stroke-linejoin="round"/>
<path d="M293.5,1066.8 L296.5,1066.4 L299.5,1066.0 L302.6,1065.6 L305.6,1065.2 L308.6,1064.8 L311.6,1064.4 L314.7,1064.0 L317.7,1063.6 L320.7,1063.1 L323.7,1062.7 L326.8,1062.3 L329.8,1061.8 L332.8,1061.4 L335.8,1060.9 L338.8,1060.5 L341.9,1060.0 L344.9,1059.5 L347.9,1059.0 L350.9,1058.6 L353.9,1058.1 L356.9,1057.6 L359.9,1057.0 L362.9,1056.5 L366.0,1056.0 L369.0,1055.5 L372.0,1054.9 L375.0,1054.4 L378.0,1053.8 L381.0,1053.2 L384.0,1052.6 L386.9,1052.0 L389.9,1051.4 L392.9,1050.8 L395.9,1050.2 L398.9,1049.5 L401.9,1048.9 L404.8,1048.2 L407.8,1047.5 L410.8,1046.8 L413.7,1046.1 L416.7,1045.4 L419.7,1044.6 L422.6,1043.9 L425.6,1043.1 L428.5,1042.4 L431.5,1041.6 L434.4,1040.8 L437.3,1039.9 L440.3,1039.1 L443.2,1038.3 L446.1,1037.4 L449.0,1036.5 L452.0,1035.6 L454.9,1034.7 L457.8,1033.7 L460.7,1032.8 L463.6,1031.8 L466.5,1030.8 L469.4,1029.8 L472.2,1028.8 L475.1,1027.7 L478.0,1026.7 L480.8,1025.6 L483.7,1024.5 L483.7,1024.5 L576.3,1024.5 L593.2,1014.4 L635.3,1002.6 L645.0,997.0 L645.0,997.0 L647.2,994.9 L649.4,992.8 L651.5,990.7 L653.7,988.5 L655.8,986.4 L657.9,984.2 L660.0,982.0 L662.1,979.8 L664.1,977.6 L666.2,975.4 L668.2,973.1 L670.2,970.9 L672.2,968.6 L674.2,966.4 L676.2,964.1 L678.2,961.8 L680.2,959.5 L682.1,957.2 L684.0,954.9 L686.0,952.6 L687.9,950.2 L689.8,947.9 L691.7,945.5 L693.6,943.2 L695.5,940.8 L697.3,938.4 L699.2,936.1 L701.1,933.7 L702.9,931.3 L704.8,928.9 L706.6,926.5 L708.4,924.1 L710.3,921.7 L712.1,919.3 L713.9,916.9 L715.7,914.5 L717.5,912.0 L719.3,909.6 L721.1,907.2 L722.9,904.7 L724.7,902.3 L726.4,899.8 L728.2,897.4 L730.0,894.9 L731.7,892.5 L733.5,890.0 L735.2,887.5 L737.0,885.1 L738.7,882.6 L740.4,880.1 L742.2,877.6 L743.9,875.1 L745.6,872.7 L747.3,870.2 L749.0,867.7 L750.8,865.2 L752.5,862.7 L754.2,860.2 L755.9,857.7 L757.6,855.2 L759.3,852.7 L760.9,850.2 L762.6,847.7 L764.3,845.1 L766.0,842.6 L767.7,840.1 L769.4,837.6 L771.0,835.1 L772.7,832.6 L774.4,830.0 L776.1,827.5 L777.7,825.0 L779.4,822.5 L781.1,819.9 L782.7,817.4 L784.4,814.9 L786.1,812.4 L787.7,809.9 L789.4,807.3 L791.1,804.8 L792.7,802.3 L794.4,799.8 L796.1,797.2 L797.7,794.7 L799.4,792.2 L801.1,789.7 L802.7,787.2 L804.4,784.6 L806.1,782.1 L807.8,779.6 L809.4,777.1 L811.1,774.6 L812.8,772.1 L814.5,769.6 L816.2,767.1 L817.9,764.6 L819.6,762.1 L821.3,759.6 L823.0,757.1 L824.7,754.6 L826.4,752.1 L828.1,749.6 L829.9,747.1 L831.6,744.7 L833.3,742.2 L835.1,739.7 L836.8,737.2 L838.5,734.8 L840.3,732.3 L842.1,729.9 L843.8,727.4 L845.6,725.0 L847.4,722.5 L849.2,720.1 L851.0,717.7 L852.8,715.2 L854.6,712.8 L856.4,710.4 L858.2,708.0 L860.0,705.6 L861.9,703.2 L863.7,700.8 L865.5,698.4 L867.4,696.0 L869.2,693.5 L871.0,691.1 L872.8,688.7 L874.7,686.3 L876.5,683.9 L878.3,681.5 L880.0,679.0 L881.8,676.6 L883.6,674.1 L885.3,671.6 L887.1,669.2 L888.8,666.7 L890.5,664.2 L892.1,661.7 L893.8,659.1 L895.4,656.6 L897.0,654.0 L898.6,651.4 L900.1,648.8 L901.6,646.2 L903.1,643.6 L904.6,640.9 L906.0,638.2 L906.0,638.2 L908.1,636.0 L910.1,633.8 L912.2,631.7 L914.2,629.5 L916.3,627.2 L918.3,625.0 L920.3,622.8 L922.3,620.6 L924.4,618.3 L926.4,616.1 L928.4,613.8 L930.4,611.6 L932.4,609.3 L934.4,607.1 L936.4,604.8 L938.4,602.6 L940.4,600.3 L942.4,598.0 L944.4,595.8 L946.4,593.5 L948.4,591.3 L950.4,589.0 L952.4,586.8 L954.5,584.5 L956.5,582.3 L958.5,580.1 L960.5,577.8 L962.6,575.6 L964.6,573.4 L966.7,571.2 L968.7,569.0 L970.8,566.8 L972.9,564.7 L975.0,562.5 L977.1,560.4 L979.2,558.2 L981.3,556.1 L983.4,554.0 L985.6,551.9 L987.7,549.8 L989.9,547.8 L992.1,545.7 L994.3,543.7 L996.5,541.6 L998.7,539.6 L1001.0,537.6 L1003.2,535.7 L1005.5,533.7 L1007.7,531.7 L1010.0,529.8 L1012.3,527.9 L1014.6,526.0 L1016.9,524.1 L1019.3,522.2 L1021.6,520.3 L1023.9,518.4 L1026.3,516.6 L1028.7,514.8 L1031.0,512.9 L1033.4,511.1 L1035.8,509.3 L1038.2,507.5 L1040.6,505.7 L1043.0,503.9 L1045.5,502.2 L1047.9,500.4 L1050.4,498.7 L1052.8,496.9 L1055.3,495.2 L1057.8,493.5 L1060.2,491.8 L1062.7,490.1 L1065.2,488.4 L1067.7,486.7 L1070.2,485.0 L1072.7,483.4 L1075.2,481.7 L1077.8,480.1 L1080.3,478.4 L1082.8,476.8 L1085.4,475.1 L1087.9,473.5 L1090.5,471.9 L1093.1,470.3 L1095.6,468.7 L1098.2,467.2 L1100.8,465.6 L1103.4,464.0 L1106.0,462.5 L1108.6,461.0 L1111.2,459.5 L1113.8,458.0 L1116.4,456.5 L1119.1,455.0 L1121.7,453.5 L1124.4,452.1 L1127.0,450.6 L1129.7,449.2 L1132.4,447.8 L1135.0,446.4 L1137.7,445.1 L1140.4,443.7 L1143.1,442.4 L1145.8,441.0 L1148.5,439.7 L1151.3,438.5 L1154.0,437.2 L1156.7,435.9 L1159.5,434.7 L1162.2,433.5 L1165.0,432.3 L1167.7,431.1 L1170.5,430.0 L1173.3,428.8 L1176.1,427.7 L1178.9,426.6 L1181.7,425.6 L1184.5,424.5 L1187.3,423.5 L1190.2,422.4 L1193.0,421.4 L1195.8,420.4 L1198.7,419.5 L1201.5,418.5 L1204.4,417.5 L1207.2,416.6 L1210.1,415.7 L1213.0,414.8 L1215.8,413.9 L1218.7,413.0 L1221.6,412.1 L1224.5,411.3 L1227.4,410.5 L1230.3,409.6 L1233.2,408.8 L1236.1,408.0 L1239.0,407.2 L1241.9,406.4 L1244.8,405.6 L1247.7,404.8 L1250.6,404.1 L1253.5,403.3 L1256.4,402.5 L1259.3,401.8 L1262.3,401.1 L1265.2,400.3 L1268.1,399.6 L1271.0,398.9 L1274.0,398.1 L1276.9,397.4 L1279.8,396.7 L1282.7,396.0 L1285.7,395.3 L1288.6,394.6 L1291.5,393.9 L1294.5,393.2 L1297.4,392.5 L1300.3,391.9 L1303.2,391.2 L1306.2,390.5 L1309.1,389.8 L1312.1,389.2 L1315.0,388.5 L1317.9,387.9 L1320.9,387.2 L1323.8,386.6 L1326.7,385.9 L1329.7,385.3 L1332.6,384.7 L1335.6,384.0 L1338.5,383.4 L1341.4,382.8 L1344.4,382.2 L1347.3,381.6 L1350.3,381.0 L1353.2,380.4 L1356.2,379.8 L1359.1,379.2 L1362.1,378.6 L1365.0,378.0 L1368.0,377.4 L1370.9,376.8 L1373.9,376.3 L1376.8,375.7 L1379.8,375.1 L1382.7,374.6 L1385.7,374.0 L1388.6,373.5 L1391.6,372.9 L1394.5,372.4 L1397.5,371.8 L1400.4,371.3 L1403.4,370.8 L1406.3,370.2 L1409.3,369.7 L1412.3,369.2 L1415.2,368.7 L1418.2,368.2 L1421.1,367.7 L1424.1,367.2 L1427.1,366.7 L1430.0,366.2 L1433.0,365.7 L1436.0,365.2 L1438.9,364.7 L1441.9,364.2 L1444.8,363.7 L1447.8,363.2 L1450.8,362.8 L1453.7,362.3 L1456.7,361.8 L1459.7,361.4 L1462.7,360.9 L1465.6,360.5 L1468.6,360.0 L1471.6,359.6 L1474.5,359.1 L1477.5,358.7 L1480.5,358.3 L1483.4,357.8 L1486.4,357.4 L1489.4,357.0 L1492.4,356.5 L1495.3,356.1 L1498.3,355.7 L1501.3,355.3 L1504.3,354.9 L1507.2,354.5 L1510.2,354.1 L1513.2,353.7 L1516.2,353.3 L1519.2,352.9 L1522.1,352.5 L1525.1,352.1 L1528.1,351.7 L1531.1,351.4 L1534.1,351.0 L1537.0,350.6 L1540.0,350.2 L1543.0,349.9 L1546.0,349.5 L1549.0,349.2 L1552.0,348.8 L1554.9,348.4 L1557.9,348.1 L1560.9,347.7 L1563.9,347.4 L1566.9,347.1 L1569.9,346.7 L1572.9,346.4 L1575.9,346.0 L1578.8,345.7 L1581.8,345.4 L1584.8,345.1 L1587.8,344.7 L1590.8,344.4 L1593.8,344.1 L1596.8,343.8 L1599.8,343.5 L1602.8,343.2 L1605.8,342.9 L1608.7,342.6 L1611.7,342.3 L1614.7,342.0 L1617.7,341.7 L1620.7,341.4 L1623.7,341.1 L1626.7,340.8 L1629.7,340.5 L1632.7,340.3 L1635.7,340.0 L1638.7,339.7 L1641.7,339.4 L1644.7,339.2 L1647.7,338.9 L1650.7,338.6 L1653.7,338.4 L1656.7,338.1 L1659.7,337.9 L1662.7,337.6 L1665.7,337.4 L1668.7,337.1 L1671.7,336.9 L1674.7,336.6 L1677.7,336.4 L1680.7,336.1 L1683.7,335.9 L1686.7,335.7 L1689.7,335.4 L1692.7,335.2 L1695.7,335.0 L1698.7,334.7 L1701.7,334.5 L1704.7,334.3 L1707.7,334.1 L1710.7,333.9 L1713.7,333.6 L1716.7,333.4 L1719.7,333.2 L1722.7,333.0 L1725.7,332.8 L1728.7,332.6 L1731.7,332.4 L1734.7,332.2 L1737.7,332.0 L1740.7,331.8 L1743.8,331.6 L1746.8,331.4 L1749.8,331.2 L1752.8,331.0 L1755.8,330.9 L1758.8,330.7 L1761.8,330.5 L1764.8,330.3 L1767.8,330.1 L1770.8,330.0 L1773.8,329.8 L1776.8,329.6 L1779.8,329.4 L1782.8,329.3 L1785.9,329.1 L1788.9,328.9 L1791.9,328.8 L1794.9,328.6 L1797.9,328.5 L1800.9,328.3 L1803.9,328.1 L1806.9,328.0 L1809.9,327.8 L1812.9,327.7 L1816.0,327.5 L1819.0,327.4 L1822.0,327.2 L1825.0,327.1 L1828.0,327.0 L1831.0,326.8 L1834.0,326.7 L1837.0,326.5 L1840.0,326.4 L1843.1,326.3 L1846.1,326.1 L1849.1,326.0 L1852.1,325.9 L1855.1,325.7 L1858.1,325.6 L1861.1,325.5 L1864.1,325.3 L1867.1,325.2 L1870.2,325.1 L1873.2,325.0 L1876.2,324.9 L1879.2,324.7 L1882.2,324.6 L1885.2,324.5 L1888.2,324.4 L1891.2,324.3 L1894.3,324.2 L1897.3,324.0 L1900.3,323.9 L1903.3,323.8 L1906.3,323.7 L1909.3,323.6 L1912.3,323.5 L1915.3,323.4 L1918.4,323.3 L1921.4,323.2 L1924.4,323.1 L1927.4,323.0 L1930.4,322.9 L1933.4,322.8 L1936.4,322.7 L1939.4,322.6 L1942.5,322.5 L1945.5,322.4 L1948.5,322.3 L1951.5,322.2 L1954.5,322.1 L1957.5,322.0 L1960.5,321.9 L1963.5,321.8 L1966.6,321.8 L1969.6,321.7 L1972.6,321.6 L1975.6,321.5 L1978.6,321.4 L1981.6,321.3 L1984.6,321.2 L1987.6,321.1 L1990.6,321.1 L1993.7,321.0 L1996.7,320.9 L1999.7,320.8 L2002.7,320.7 L2005.7,320.6 L2008.7,320.6 L2011.7,320.5 L2014.7,320.4 L2017.7,320.3 L2020.8,320.3 L2023.8,320.2 L2026.8,320.1 L2029.8,320.0 L2032.8,319.9 L2035.8,319.9 L2038.8,319.8 L2041.8,319.7 L2044.8,319.6 L2047.8,319.6 L2050.9,319.5 L2053.9,319.4 L2056.9,319.3 L2059.9,319.3 L2062.9,319.2 L2065.9,319.1 L2068.9,319.1 L2071.9,319.0 L2074.9,318.9 L2077.9,318.8 L2080.9,318.8 L2083.9,318.7 L2086.9,318.6 L2090.0,318.5 L2093.0,318.5 L2096.0,318.4 L2099.0,318.3 L2102.0,318.3 L2105.0,318.2 L2108.0,318.1 L2111.0,318.0 L2114.0,318.0 L2117.0,317.9 L2120.0,317.8 L2123.0,317.8 L2126.0,317.7 L2129.0,317.6 L2132.0,317.5 L2135.0,317.5 L2138.0,317.4 L2141.0,317.3 L2144.0,317.3 L2147.0,317.2 L2150.0,317.1 L2153.0,317.0 L2156.0,317.0 L2159.0,316.9 L2162.0,316.8 L2165.0,316.7 L2168.0,316.7 L2171.0,316.6 L2174.0,316.5 L2177.0,316.4 L2180.0,316.4 L2183.0,316.3 L2186.0,316.2 L2189.0,316.1 L2192.0,316.1 L2195.0,316.0 L2198.0,315.9 L2201.0,315.8 L2204.0,315.7 L2207.0,315.7 L2210.0,315.6 L2213.0,315.5" stroke="#3F48CC" stroke-width="8.7" fill="none" stroke-linecap="round" stroke-linejoin="round"/>
<path d="M283.0,1090.0 L283.9,1087.1 L284.8,1084.3 L285.7,1081.4 L286.6,1078.5 L287.4,1075.7 L288.3,1072.8 L289.2,1069.9 L290.0,1067.0 L290.9,1064.2 L291.7,1061.3 L292.6,1058.4 L293.4,1055.5 L294.2,1052.6 L295.0,1049.7 L295.9,1046.8 L296.7,1043.9 L297.5,1041.0 L298.3,1038.2 L299.1,1035.3 L299.9,1032.4 L300.7,1029.5 L301.5,1026.6 L302.3,1023.7 L303.0,1020.8 L303.8,1017.9 L304.6,1014.9 L305.4,1012.0 L306.1,1009.1 L306.9,1006.2 L307.7,1003.3 L308.4,1000.4 L309.2,997.5 L309.9,994.6 L310.7,991.7 L311.4,988.8 L312.2,985.9 L312.9,982.9 L313.7,980.0 L314.4,977.1 L315.2,974.2 L315.9,971.3 L316.7,968.4 L317.4,965.5 L318.1,962.5 L318.9,959.6 L319.6,956.7 L320.4,953.8 L321.1,950.9 L321.8,948.0 L322.6,945.1 L323.3,942.2 L324.1,939.2 L324.8,936.3 L325.6,933.4 L326.3,930.5 L327.1,927.6 L327.8,924.7 L328.6,921.8 L329.3,918.9 L330.1,915.9 L330.8,913.0 L331.6,910.1 L332.3,907.2 L333.1,904.3 L333.9,901.4 L334.6,898.5 L335.4,895.6 L336.2,892.7 L336.9,889.8 L337.7,886.9 L338.5,884.0 L339.3,881.1 L340.1,878.2 L340.9,875.3 L341.7,872.4 L342.5,869.5 L343.3,866.7 L344.1,863.8 L344.9,860.9 L345.7,858.0 L346.6,855.1 L347.4,852.2 L348.2,849.4 L349.1,846.5 L349.9,843.6 L350.8,840.7 L351.6,837.9 L352.5,835.0 L353.4,832.1 L354.2,829.3 L355.1,826.4 L356.0,823.5 L356.9,820.7 L357.8,817.8 L358.7,815.0 L359.7,812.1 L360.6,809.3 L361.5,806.4 L362.5,803.6 L363.4,800.7 L364.4,797.9 L365.3,795.1 L366.3,792.2 L367.3,789.4 L368.3,786.6 L369.3,783.8 L370.3,781.0 L371.3,778.1 L372.3,775.3 L373.4,772.5 L374.4,769.7 L375.5,766.9 L376.5,764.1 L377.6,761.3 L378.7,758.5 L379.8,755.7 L380.9,752.9 L382.0,750.2 L383.1,747.4 L384.3,744.6 L385.4,741.8 L386.6,739.1 L387.7,736.3 L388.9,733.5 L390.1,730.8 L391.3,728.0 L392.5,725.3 L393.8,722.6 L395.0,719.8 L396.2,717.1 L397.5,714.4 L398.8,711.6 L400.1,708.9 L401.4,706.2 L402.7,703.5 L404.0,700.8 L405.4,698.1 L406.7,695.4 L408.1,692.7 L409.5,690.0 L410.9,687.3 L412.3,684.6 L413.7,681.9 L415.1,679.3 L416.6,676.6 L418.1,674.0 L419.6,671.3 L421.1,668.7 L422.6,666.0 L424.1,663.4 L425.6,660.8 L427.2,658.2 L428.8,655.6 L430.4,653.0 L432.0,650.4 L433.6,647.8 L435.2,645.3 L436.9,642.7 L438.5,640.2 L440.2,637.7 L441.9,635.2 L443.6,632.7 L445.4,630.2 L447.1,627.7 L448.9,625.3 L450.7,622.8 L452.5,620.4 L454.3,618.0 L456.1,615.6 L457.9,613.2 L459.8,610.9 L461.7,608.5 L463.6,606.2 L465.5,603.9 L467.4,601.6 L469.4,599.4 L471.4,597.1 L473.3,594.9 L475.3,592.7 L477.4,590.5 L479.4,588.4 L481.5,586.2 L483.5,584.1 L485.6,582.0 L487.8,580.0 L489.9,577.9 L492.0,575.9 L494.2,573.9 L496.4,572.0 L498.6,570.0 L500.9,568.1 L503.1,566.2 L505.4,564.3 L507.7,562.5 L510.0,560.7 L512.4,558.9 L514.8,557.1 L517.2,555.3 L519.6,553.6 L522.1,551.9 L524.6,550.2 L527.1,548.6 L529.6,546.9 L532.2,545.3 L534.8,543.6 L537.3,542.0 L539.9,540.4 L542.4,538.7 L545.0,537.0 L547.5,535.3 L550.0,533.6 L552.5,531.9 L554.9,530.1 L557.3,528.3 L559.7,526.4 L562.0,524.5 L564.3,522.5 L566.6,520.5 L568.8,518.5 L571.0,516.4 L573.3,514.4 L575.5,512.4 L577.8,510.5 L580.1,508.6 L582.4,506.7 L584.8,505.0 L587.3,503.3 L589.7,501.7 L592.3,500.1 L594.9,498.6 L597.5,497.2 L600.1,495.8 L602.8,494.4 L605.5,493.1 L608.2,491.8 L611.0,490.6 L613.7,489.4 L616.5,488.3 L619.3,487.1 L622.2,486.0 L625.0,484.9 L627.8,483.9 L630.6,482.8 L633.5,481.8 L636.3,480.7 L639.2,479.7 L642.0,478.7 L644.9,477.7 L647.7,476.8 L650.6,475.8 L653.4,474.9 L656.3,473.9 L659.2,473.0 L662.0,472.1 L664.9,471.2 L667.8,470.3 L670.7,469.5 L673.5,468.6 L676.4,467.8 L679.3,467.0 L682.2,466.1 L685.1,465.3 L688.0,464.5 L690.9,463.8 L693.8,463.0 L696.7,462.2 L699.6,461.5 L702.5,460.8 L705.4,460.0 L708.3,459.3 L711.3,458.6 L714.2,457.9 L717.1,457.3 L720.0,456.6 L722.9,455.9 L725.9,455.3 L728.8,454.6 L731.7,454.0 L734.7,453.4 L737.6,452.8 L740.6,452.2 L743.5,451.6 L746.4,451.0 L749.4,450.5 L752.3,449.9 L755.3,449.3 L758.2,448.8 L761.2,448.3 L764.1,447.7 L767.1,447.2 L770.1,446.7 L773.0,446.2 L776.0,445.7 L778.9,445.2 L781.9,444.8 L784.9,444.3 L787.8,443.8 L790.8,443.4 L793.8,443.0 L796.8,442.5 L799.7,442.1 L802.7,441.7 L805.7,441.3 L808.7,440.8 L811.6,440.4 L814.6,440.0 L817.6,439.7 L820.6,439.3 L823.6,438.9 L826.5,438.5 L829.5,438.2 L832.5,437.8 L835.5,437.5 L838.5,437.1 L841.5,436.8 L844.5,436.4 L847.5,436.1 L850.4,435.8 L853.4,435.5 L856.4,435.2 L859.4,434.8 L862.4,434.5 L865.4,434.2 L868.4,433.9 L871.4,433.6 L874.4,433.4 L877.4,433.1 L880.4,432.8 L883.4,432.5 L886.4,432.2 L889.4,432.0 L892.4,431.7 L895.4,431.4 L898.4,431.2 L901.4,430.9 L904.4,430.7 L907.4,430.4 L910.4,430.2 L913.4,429.9 L916.4,429.7 L919.4,429.5 L922.4,429.2 L925.3,429.0 L928.3,428.8 L931.3,428.6 L934.3,428.3 L937.3,428.1 L940.3,427.9 L943.3,427.7 L946.3,427.5 L949.3,427.3 L952.3,427.1 L955.3,426.9 L958.3,426.7 L961.3,426.5 L964.3,426.3 L967.3,426.1 L970.3,425.9 L973.3,425.7 L976.3,425.6 L979.3,425.4 L982.3,425.2 L985.4,425.1 L988.4,424.9 L991.4,424.7 L994.4,424.6 L997.4,424.4 L1000.4,424.3 L1003.4,424.1 L1006.4,424.0 L1009.4,423.8 L1012.4,423.7 L1015.4,423.5 L1018.4,423.4 L1021.4,423.2 L1024.4,423.1 L1027.4,423.0 L1030.4,422.9 L1033.4,422.7 L1036.4,422.6 L1039.4,422.5 L1042.4,422.4 L1045.4,422.3 L1048.4,422.1 L1051.4,422.0 L1054.4,421.9 L1057.4,421.8 L1060.4,421.7 L1063.4,421.6 L1066.4,421.5 L1069.4,421.4 L1072.4,421.3 L1075.4,421.2 L1078.5,421.2 L1081.5,421.1 L1084.5,421.0 L1087.5,420.9 L1090.5,420.8 L1093.5,420.7 L1096.5,420.7 L1099.5,420.6 L1102.5,420.5 L1105.5,420.5 L1108.5,420.4 L1111.5,420.3 L1114.5,420.3 L1117.5,420.2 L1120.5,420.2 L1123.5,420.1 L1126.5,420.1 L1129.5,420.0 L1132.6,420.0 L1135.6,419.9 L1138.6,419.9 L1141.6,419.8 L1144.6,419.8 L1147.6,419.7 L1150.6,419.7 L1153.6,419.7 L1156.6,419.6 L1159.6,419.6 L1162.6,419.6 L1165.6,419.6 L1168.6,419.5 L1171.6,419.5 L1174.6,419.5 L1177.6,419.5 L1180.7,419.5 L1183.7,419.4 L1186.7,419.4 L1189.7,419.4 L1192.7,419.4 L1195.7,419.4 L1198.7,419.4 L1201.7,419.4 L1204.7,419.4 L1207.7,419.4 L1210.7,419.4 L1213.7,419.4 L1216.7,419.4 L1219.7,419.4 L1222.8,419.4 L1225.8,419.4 L1228.8,419.4 L1231.8,419.4 L1234.8,419.5 L1237.8,419.5 L1240.8,419.5 L1243.8,419.5 L1246.8,419.5 L1249.8,419.5 L1252.8,419.6 L1255.8,419.6 L1258.8,419.6 L1261.9,419.6 L1264.9,419.7 L1267.9,419.7 L1270.9,419.7 L1273.9,419.8 L1276.9,419.8 L1279.9,419.8 L1282.9,419.9 L1285.9,419.9 L1288.9,419.9 L1291.9,420.0 L1294.9,420.0 L1297.9,420.1 L1301.0,420.1 L1304.0,420.2 L1307.0,420.2 L1310.0,420.3 L1313.0,420.3 L1316.0,420.3 L1319.0,420.4 L1322.0,420.5 L1325.0,420.5 L1328.0,420.6 L1331.0,420.6 L1334.0,420.7 L1337.0,420.7 L1340.0,420.8 L1343.1,420.8 L1346.1,420.9 L1349.1,421.0 L1352.1,421.0 L1355.1,421.1 L1358.1,421.1 L1361.1,421.2 L1364.1,421.3 L1367.1,421.3 L1370.1,421.4 L1373.1,421.5 L1376.1,421.5 L1379.1,421.6 L1382.1,421.7 L1385.1,421.8 L1388.2,421.8 L1391.2,421.9 L1394.2,422.0 L1397.2,422.0 L1400.2,422.1 L1403.2,422.2 L1406.2,422.3 L1409.2,422.3 L1412.2,422.4 L1415.2,422.5 L1418.2,422.6 L1421.2,422.6 L1424.2,422.7 L1427.2,422.8 L1430.2,422.9 L1433.2,423.0 L1436.3,423.0 L1439.3,423.1 L1442.3,423.2 L1445.3,423.3 L1448.3,423.4 L1451.3,423.5 L1454.3,423.5 L1457.3,423.6 L1460.3,423.7 L1463.3,423.8 L1466.3,423.9 L1469.3,424.0 L1472.3,424.1 L1475.3,424.2 L1478.3,424.2 L1481.3,424.3 L1484.3,424.4 L1487.3,424.5 L1490.3,424.6 L1493.4,424.7 L1496.4,424.8 L1499.4,424.9 L1502.4,425.0 L1505.4,425.1 L1508.4,425.2 L1511.4,425.3 L1514.4,425.4 L1517.4,425.5 L1520.4,425.5 L1523.4,425.6 L1526.4,425.7 L1529.4,425.8 L1532.4,425.9 L1535.4,426.0 L1538.4,426.1 L1541.4,426.2 L1544.4,426.3 L1547.4,426.4 L1550.4,426.5 L1553.4,426.6 L1556.4,426.7 L1559.4,426.8 L1562.5,426.9 L1565.5,427.0 L1568.5,427.1 L1571.5,427.2 L1574.5,427.3 L1577.5,427.5 L1580.5,427.6 L1583.5,427.7 L1586.5,427.8 L1589.5,427.9 L1592.5,428.0 L1595.5,428.1 L1598.5,428.2 L1601.5,428.3 L1604.5,428.4 L1607.5,428.5 L1610.5,428.6 L1613.5,428.7 L1616.5,428.8 L1619.5,428.9 L1622.5,429.0 L1625.5,429.2 L1628.5,429.3 L1631.5,429.4 L1634.5,429.5 L1637.6,429.6 L1640.6,429.7 L1643.6,429.8 L1646.6,429.9 L1649.6,430.0 L1652.6,430.1 L1655.6,430.3 L1658.6,430.4 L1661.6,430.5 L1664.6,430.6 L1667.6,430.7 L1670.6,430.8 L1673.6,430.9 L1676.6,431.0 L1679.6,431.2 L1682.6,431.3 L1685.6,431.4 L1688.6,431.5 L1691.6,431.6 L1694.6,431.7 L1697.6,431.8 L1700.6,432.0 L1703.6,432.1 L1706.6,432.2 L1709.6,432.3 L1712.6,432.4 L1715.7,432.5 L1718.7,432.6 L1721.7,432.8 L1724.7,432.9 L1727.7,433.0 L1730.7,433.1 L1733.7,433.2 L1736.7,433.3 L1739.7,433.4 L1742.7,433.6 L1745.7,433.7 L1748.7,433.8 L1751.7,433.9 L1754.7,434.0 L1757.7,434.1 L1760.7,434.3 L1763.7,434.4 L1766.7,434.5 L1769.7,434.6 L1772.7,434.7 L1775.7,434.8 L1778.7,435.0 L1781.7,435.1 L1784.8,435.2 L1787.8,435.3 L1790.8,435.4 L1793.8,435.5 L1796.8,435.7 L1799.8,435.8 L1802.8,435.9 L1805.8,436.0 L1808.8,436.1 L1811.8,436.2 L1814.8,436.4 L1817.8,436.5 L1820.8,436.6 L1823.8,436.7 L1826.8,436.8 L1829.8,436.9 L1832.8,437.0 L1835.8,437.2 L1838.8,437.3 L1841.8,437.4 L1844.9,437.5 L1847.9,437.6 L1850.9,437.7 L1853.9,437.9 L1856.9,438.0 L1859.9,438.1 L1862.9,438.2 L1865.9,438.3 L1868.9,438.4 L1871.9,438.5 L1874.9,438.7 L1877.9,438.8 L1880.9,438.9 L1883.9,439.0 L1886.9,439.1 L1889.9,439.2 L1892.9,439.4 L1896.0,439.5 L1899.0,439.6 L1902.0,439.7 L1905.0,439.8 L1908.0,440.0 L1911.0,440.1 L1914.0,440.2 L1917.0,440.3 L1920.0,440.4 L1923.0,440.6 L1926.0,440.7 L1929.0,440.8 L1932.0,441.0 L1935.0,441.1 L1938.0,441.2 L1941.0,441.4 L1944.0,441.5 L1947.0,441.6 L1950.0,441.8 L1953.1,441.9 L1956.1,442.1 L1959.1,442.2 L1962.1,442.3 L1965.1,442.5 L1968.1,442.6 L1971.1,442.8 L1974.1,443.0 L1977.1,443.1 L1980.1,443.3 L1983.1,443.4 L1986.1,443.6 L1989.1,443.8 L1992.1,443.9 L1995.1,444.1 L1998.1,444.3 L2001.1,444.5 L2004.1,444.7 L2007.1,444.8 L2010.1,445.0 L2013.1,445.2 L2016.1,445.4 L2019.1,445.6 L2022.1,445.8 L2025.1,446.0 L2028.1,446.2 L2031.1,446.4 L2034.1,446.6 L2037.1,446.9 L2040.1,447.1 L2043.1,447.3 L2046.1,447.5 L2049.1,447.8 L2052.0,448.0 L2055.0,448.3 L2058.0,448.5 L2061.0,448.8 L2064.0,449.0 L2067.0,449.3 L2070.0,449.5 L2073.0,449.8 L2076.0,450.1 L2079.0,450.3 L2082.0,450.6 L2085.0,450.9 L2088.0,451.2 L2090.9,451.5 L2093.9,451.8 L2096.9,452.1 L2099.9,452.4 L2102.9,452.7 L2105.9,453.0 L2108.9,453.4 L2111.9,453.7 L2114.8,454.0 L2117.8,454.4 L2120.8,454.7 L2123.8,455.1 L2126.8,455.4 L2129.8,455.8 L2132.7,456.2 L2135.7,456.5 L2138.7,456.9 L2141.7,457.3 L2144.7,457.7 L2147.6,458.1 L2150.6,458.5 L2153.6,458.9 L2156.6,459.3 L2159.5,459.7 L2162.5,460.2 L2165.5,460.6 L2168.5,461.1 L2171.4,461.5 L2174.4,462.0 L2177.4,462.4 L2180.4,462.9 L2183.3,463.4 L2186.3,463.8 L2189.3,464.3 L2192.2,464.8 L2195.2,465.3 L2198.2,465.8 L2201.1,466.4 L2204.1,466.9 L2207.1,467.4 L2210.0,468.0 L2213.0,468.5" stroke="#FF7F27" stroke-width="8.7" fill="none" stroke-linecap="round" stroke-linejoin="round"/>
<path d="M291.6,1071.5 L294.6,1071.4 L297.6,1071.3 L300.6,1071.2 L303.6,1071.1 L306.6,1070.9 L309.6,1070.8 L312.6,1070.7 L315.6,1070.6 L318.6,1070.5 L321.6,1070.4 L324.6,1070.3 L327.6,1070.2 L330.6,1070.1 L333.6,1070.0 L336.6,1069.8 L339.6,1069.7 L342.6,1069.6 L345.6,1069.5 L348.7,1069.4 L351.7,1069.3 L354.7,1069.2 L357.7,1069.1 L360.7,1069.0 L363.7,1068.9 L366.7,1068.8 L369.7,1068.6 L372.7,1068.5 L375.7,1068.4 L378.7,1068.3 L381.7,1068.2 L384.7,1068.1 L387.7,1068.0 L390.7,1067.9 L393.7,1067.8 L396.7,1067.7 L399.7,1067.6 L402.7,1067.5 L405.7,1067.4 L408.7,1067.3 L411.7,1067.2 L414.7,1067.1 L417.7,1067.0 L420.7,1066.9 L423.7,1066.8 L426.7,1066.7 L429.7,1066.6 L432.7,1066.5 L435.7,1066.4 L438.7,1066.3 L441.7,1066.2 L444.7,1066.1 L447.7,1066.0 L450.8,1065.9 L453.8,1065.8 L456.8,1065.7 L459.8,1065.6 L462.8,1065.5 L465.8,1065.4 L468.8,1065.3 L471.8,1065.2 L474.8,1065.1 L477.8,1065.0 L480.8,1064.9 L483.8,1064.8 L486.8,1064.8 L489.8,1064.7 L492.8,1064.6 L495.8,1064.5 L498.8,1064.4 L501.8,1064.3 L504.8,1064.2 L507.8,1064.1 L510.8,1064.0 L513.8,1064.0 L516.8,1063.9 L519.8,1063.8 L522.8,1063.7 L525.8,1063.6 L528.8,1063.5 L531.8,1063.4 L534.8,1063.4 L537.8,1063.3 L540.8,1063.2 L543.9,1063.1 L546.9,1063.0 L549.9,1063.0 L552.9,1062.9 L555.9,1062.8 L558.9,1062.7 L561.9,1062.7 L564.9,1062.6 L567.9,1062.5 L570.9,1062.4 L573.9,1062.4 L576.9,1062.3 L579.9,1062.2 L582.9,1062.1 L585.9,1062.1 L588.9,1062.0 L591.9,1061.9 L594.9,1061.9 L597.9,1061.8 L600.9,1061.7 L603.9,1061.7 L606.9,1061.6 L609.9,1061.5 L612.9,1061.5 L615.9,1061.4 L618.9,1061.3 L621.9,1061.3 L624.9,1061.2 L628.0,1061.2 L631.0,1061.1 L634.0,1061.0 L637.0,1061.0 L640.0,1060.9 L643.0,1060.9 L646.0,1060.8 L649.0,1060.8 L652.0,1060.7 L655.0,1060.7 L658.0,1060.6 L661.0,1060.6 L664.0,1060.5 L667.0,1060.5 L670.0,1060.4 L673.0,1060.4 L676.0,1060.3 L679.0,1060.3 L682.0,1060.2 L685.0,1060.2 L688.0,1060.2 L691.0,1060.1 L694.0,1060.1 L697.0,1060.0 L700.0,1060.0 L703.0,1060.0 L706.1,1059.9 L709.1,1059.9 L712.1,1059.9 L715.1,1059.8 L718.1,1059.8 L721.1,1059.8 L724.1,1059.7 L727.1,1059.7 L730.1,1059.7 L733.1,1059.7 L736.1,1059.6 L739.1,1059.6 L742.1,1059.6 L745.1,1059.6 L748.1,1059.5 L751.1,1059.5 L754.1,1059.5 L757.1,1059.5 L760.1,1059.5 L763.1,1059.5 L766.1,1059.4 L769.1,1059.4 L772.1,1059.4 L775.1,1059.4 L778.2,1059.4 L781.2,1059.4 L784.2,1059.4 L787.2,1059.4 L790.2,1059.4 L793.2,1059.4 L796.2,1059.4 L799.2,1059.4 L802.2,1059.4 L805.2,1059.4 L808.2,1059.4 L811.2,1059.4 L814.2,1059.4 L817.2,1059.4 L820.2,1059.4 L823.2,1059.4 L826.2,1059.4 L829.2,1059.4 L832.2,1059.4 L835.2,1059.4 L838.2,1059.5 L841.2,1059.5 L844.3,1059.5 L847.3,1059.5 L850.3,1059.5 L853.3,1059.5 L856.3,1059.6 L859.3,1059.6 L862.3,1059.6 L865.3,1059.6 L868.3,1059.7 L871.3,1059.7 L874.3,1059.7 L877.3,1059.8 L880.3,1059.8 L883.3,1059.8 L886.3,1059.9 L889.3,1059.9 L892.3,1059.9 L895.3,1060.0 L898.3,1060.0 L901.3,1060.0 L904.4,1060.1 L907.4,1060.1 L910.4,1060.2 L913.4,1060.2 L916.4,1060.3 L919.4,1060.3 L922.4,1060.3 L925.4,1060.4 L928.4,1060.4 L931.4,1060.5 L934.4,1060.5 L937.4,1060.6 L940.4,1060.6 L943.4,1060.7 L946.4,1060.7 L949.4,1060.8 L952.4,1060.9 L955.4,1060.9 L958.4,1061.0 L961.4,1061.0 L964.5,1061.1 L967.5,1061.1 L970.5,1061.2 L973.5,1061.3 L976.5,1061.3 L979.5,1061.4 L982.5,1061.4 L985.5,1061.5 L988.5,1061.6 L991.5,1061.6 L994.5,1061.7 L997.5,1061.8 L1000.5,1061.8 L1003.5,1061.9 L1006.5,1062.0 L1009.5,1062.0 L1012.5,1062.1 L1015.5,1062.2 L1018.5,1062.2 L1021.5,1062.3 L1024.5,1062.4 L1027.6,1062.4 L1030.6,1062.5 L1033.6,1062.6 L1036.6,1062.7 L1039.6,1062.7 L1042.6,1062.8 L1045.6,1062.9 L1048.6,1063.0 L1051.6,1063.0 L1054.6,1063.1 L1057.6,1063.2 L1060.6,1063.3 L1063.6,1063.3 L1066.6,1063.4 L1069.6,1063.5 L1072.6,1063.6 L1075.6,1063.6 L1078.6,1063.7 L1081.6,1063.8 L1084.6,1063.9 L1087.6,1063.9 L1090.7,1064.0 L1093.7,1064.1 L1096.7,1064.2 L1099.7,1064.3 L1102.7,1064.3 L1105.7,1064.4 L1108.7,1064.5 L1111.7,1064.6 L1114.7,1064.7 L1117.7,1064.7 L1120.7,1064.8 L1123.7,1064.9 L1126.7,1065.0 L1129.7,1065.1 L1132.7,1065.1 L1135.7,1065.2 L1138.7,1065.3 L1141.7,1065.4 L1144.7,1065.5 L1147.7,1065.5 L1150.7,1065.6 L1153.7,1065.7 L1156.7,1065.8 L1159.8,1065.9 L1162.8,1065.9 L1165.8,1066.0 L1168.8,1066.1 L1171.8,1066.2 L1174.8,1066.3 L1177.8,1066.3 L1180.8,1066.4 L1183.8,1066.5 L1186.8,1066.6 L1189.8,1066.7 L1192.8,1066.7 L1195.8,1066.8 L1198.8,1066.9 L1201.8,1067.0 L1204.8,1067.0 L1207.8,1067.1 L1210.8,1067.2 L1213.8,1067.3 L1216.8,1067.4 L1219.8,1067.4 L1222.8,1067.5 L1225.8,1067.6 L1228.8,1067.7 L1231.8,1067.7 L1234.8,1067.8 L1237.8,1067.9 L1240.8,1068.0 L1243.8,1068.0 L1246.9,1068.1 L1249.9,1068.2 L1252.9,1068.2 L1255.9,1068.3 L1258.9,1068.4 L1261.9,1068.5 L1264.9,1068.5 L1267.9,1068.6 L1270.9,1068.7 L1273.9,1068.7 L1276.9,1068.8 L1279.9,1068.9 L1282.9,1068.9 L1285.9,1069.0 L1288.9,1069.1 L1291.9,1069.1 L1294.9,1069.2 L1297.9,1069.3 L1300.9,1069.3 L1303.9,1069.4 L1306.9,1069.5 L1309.9,1069.5 L1312.9,1069.6 L1315.9,1069.6 L1318.9,1069.7 L1321.9,1069.8 L1324.9,1069.8 L1327.9,1069.9 L1330.9,1069.9 L1333.9,1070.0 L1336.9,1070.0 L1339.9,1070.1 L1342.9,1070.1 L1345.9,1070.2 L1348.9,1070.2 L1351.9,1070.3 L1354.9,1070.3 L1357.9,1070.4 L1360.9,1070.4 L1363.9,1070.5 L1366.9,1070.5 L1369.9,1070.5 L1372.9,1070.6 L1375.9,1070.6 L1378.9,1070.6 L1382.0,1070.7 L1385.0,1070.7 L1388.0,1070.7 L1391.0,1070.8 L1394.0,1070.8 L1397.0,1070.8 L1400.0,1070.8 L1403.0,1070.9 L1406.0,1070.9 L1409.0,1070.9 L1412.0,1070.9 L1415.0,1070.9 L1418.0,1071.0 L1421.0,1071.0 L1424.0,1071.0 L1427.0,1071.0 L1430.0,1071.0 L1433.0,1071.0 L1436.0,1071.0 L1439.0,1071.0 L1442.0,1071.0 L1445.0,1071.0 L1448.0,1071.0 L1451.0,1071.0 L1454.0,1071.0 L1457.0,1071.0 L1460.0,1071.0 L1463.0,1071.0 L1466.0,1070.9 L1469.0,1070.9 L1472.0,1070.9 L1475.0,1070.9 L1478.0,1070.8 L1481.0,1070.8 L1484.0,1070.8 L1487.0,1070.8 L1490.1,1070.7 L1493.1,1070.7 L1496.1,1070.6 L1499.1,1070.6 L1502.1,1070.6 L1505.1,1070.5 L1508.1,1070.5 L1511.1,1070.4 L1514.1,1070.3 L1517.1,1070.3 L1520.1,1070.2 L1523.1,1070.2 L1526.1,1070.1 L1529.1,1070.0 L1532.1,1070.0 L1535.1,1069.9 L1538.1,1069.8 L1541.1,1069.7 L1544.1,1069.6 L1547.2,1069.5 L1550.2,1069.5 L1553.2,1069.4 L1556.2,1069.3 L1559.2,1069.2 L1562.2,1069.1 L1565.2,1069.0 L1568.2,1068.9 L1571.2,1068.7 L1574.2,1068.6 L1577.2,1068.5 L1580.2,1068.4 L1583.2,1068.3 L1586.2,1068.1 L1589.3,1068.0 L1592.3,1067.9 L1595.3,1067.7 L1598.3,1067.6 L1601.3,1067.5 L1604.3,1067.3 L1607.3,1067.2 L1610.3,1067.0 L1613.3,1066.9 L1616.3,1066.7 L1619.3,1066.5 L1622.4,1066.4 L1625.4,1066.2 L1628.4,1066.0 L1631.4,1065.8 L1634.4,1065.7 L1637.4,1065.5 L1640.4,1065.3 L1643.4,1065.1 L1646.4,1064.9 L1649.4,1064.7 L1652.4,1064.5 L1655.4,1064.3 L1658.4,1064.1 L1661.4,1063.9 L1664.4,1063.6 L1667.4,1063.4 L1670.4,1063.2 L1673.4,1063.0 L1676.4,1062.7 L1679.4,1062.5 L1682.4,1062.2 L1685.4,1062.0 L1688.4,1061.7 L1691.4,1061.5 L1694.4,1061.2 L1697.3,1061.0 L1700.3,1060.7 L1703.3,1060.4 L1706.3,1060.2 L1709.3,1059.9 L1712.2,1059.6 L1715.2,1059.3 L1718.2,1059.0 L1721.2,1058.7 L1724.1,1058.4 L1727.1,1058.1 L1730.1,1057.8 L1733.0,1057.5 L1736.0,1057.2 L1739.0,1056.9 L1741.9,1056.6 L1744.9,1056.2 L1747.8,1055.9 L1750.8,1055.5 L1753.7,1055.1 L1756.7,1054.7 L1759.6,1054.3 L1762.6,1053.9 L1765.6,1053.4 L1768.5,1052.9 L1771.5,1052.4 L1774.4,1051.9 L1777.4,1051.3 L1780.3,1050.7 L1783.3,1050.1 L1786.2,1049.5 L1789.2,1048.8 L1792.1,1048.1 L1795.1,1047.4 L1798.0,1046.7 L1801.0,1046.0 L1803.9,1045.2 L1806.9,1044.4 L1809.8,1043.6 L1812.7,1042.7 L1815.7,1041.8 L1818.6,1040.9 L1821.5,1040.0 L1824.4,1039.0 L1827.2,1038.0 L1830.1,1036.9 L1832.9,1035.8 L1835.7,1034.6 L1838.4,1033.4 L1841.1,1032.1 L1843.8,1030.8 L1846.4,1029.4 L1849.0,1027.9 L1851.6,1026.4 L1854.1,1024.9 L1856.5,1023.2 L1858.9,1021.5 L1861.2,1019.8 L1863.4,1017.9 L1865.6,1016.0 L1867.7,1014.0 L1869.7,1012.0 L1871.7,1009.9 L1873.6,1007.7 L1875.4,1005.4 L1877.1,1003.1 L1878.8,1000.7 L1880.4,998.2 L1881.9,995.7 L1883.4,993.1 L1884.8,990.5 L1886.2,987.8 L1887.5,985.1 L1888.8,982.4 L1890.0,979.6 L1891.3,976.8 L1892.4,974.0 L1893.6,971.1 L1894.7,968.3 L1895.8,965.4 L1896.9,962.5 L1898.0,959.6 L1899.1,956.8 L1900.2,953.9 L1901.2,951.0 L1902.3,948.1 L1903.3,945.3 L1904.4,942.4 L1905.4,939.5 L1906.5,936.7 L1907.5,933.8 L1908.5,931.0 L1909.6,928.1 L1910.6,925.3 L1911.6,922.4 L1912.6,919.6 L1913.6,916.7 L1914.6,913.9 L1915.6,911.0 L1916.6,908.2 L1917.5,905.3 L1918.5,902.5 L1919.4,899.7 L1920.4,896.8 L1921.3,894.0 L1922.3,891.1 L1923.2,888.3 L1924.1,885.4 L1925.0,882.6 L1925.9,879.7 L1926.8,876.9 L1927.7,874.0 L1928.6,871.2 L1929.5,868.3 L1930.3,865.5 L1931.2,862.6 L1932.0,859.7 L1932.9,856.9 L1933.7,854.0 L1934.5,851.1 L1935.3,848.3 L1936.1,845.4 L1936.9,842.5 L1937.7,839.6 L1938.5,836.7 L1939.3,833.8 L1940.0,831.0 L1940.8,828.1 L1941.6,825.2 L1942.3,822.3 L1943.0,819.4 L1943.8,816.5 L1944.5,813.6 L1945.2,810.6 L1945.9,807.7 L1946.6,804.8 L1947.3,801.9 L1948.0,799.0 L1948.7,796.1 L1949.4,793.2 L1950.0,790.2 L1950.7,787.3 L1951.4,784.4 L1952.0,781.5 L1952.7,778.5 L1953.3,775.6 L1954.0,772.7 L1954.6,769.7 L1955.2,766.8 L1955.9,763.9 L1956.5,760.9 L1957.1,758.0 L1957.7,755.0 L1958.3,752.1 L1958.9,749.2 L1959.6,746.2 L1960.2,743.3 L1960.8,740.3 L1961.4,737.4 L1962.0,734.4 L1962.5,731.5 L1963.1,728.5 L1963.7,725.6 L1964.3,722.6 L1964.9,719.7 L1965.5,716.7 L1966.0,713.8 L1966.6,710.8 L1967.2,707.9 L1967.8,704.9 L1968.3,701.9 L1968.9,699.0 L1969.5,696.0 L1970.1,693.1 L1970.6,690.1 L1971.2,687.2 L1971.8,684.2 L1972.3,681.3 L1972.9,678.3 L1973.5,675.3 L1974.0,672.4 L1974.6,669.4 L1975.2,666.5 L1975.8,663.5 L1976.3,660.6 L1976.9,657.6 L1977.5,654.6 L1978.0,651.7 L1978.6,648.7 L1979.2,645.8 L1979.8,642.8 L1980.4,639.9 L1980.9,636.9 L1981.5,634.0 L1982.1,631.0 L1982.7,628.1 L1983.3,625.1 L1983.9,622.2 L1984.5,619.2 L1985.1,616.3 L1985.7,613.4 L1986.3,610.4 L1986.9,607.5 L1987.5,604.5 L1988.1,601.6 L1988.7,598.6 L1989.3,595.7 L1989.9,592.8 L1990.5,589.8 L1991.2,586.9 L1991.8,583.9 L1992.4,581.0 L1993.0,578.1 L1993.7,575.1 L1994.3,572.2 L1994.9,569.3 L1995.6,566.3 L1996.2,563.4 L1996.9,560.5 L1997.5,557.5 L1998.2,554.6 L1998.8,551.7 L1999.5,548.8 L2000.1,545.8 L2000.8,542.9 L2001.4,540.0 L2002.1,537.0 L2002.8,534.1 L2003.5,531.2 L2004.1,528.3 L2004.8,525.4 L2005.5,522.4 L2006.2,519.5 L2006.9,516.6 L2007.6,513.7 L2008.3,510.8 L2008.9,507.8 L2009.6,504.9 L2010.4,502.0 L2011.1,499.1 L2011.8,496.2 L2012.5,493.3 L2013.2,490.3 L2013.9,487.4 L2014.6,484.5 L2015.4,481.6 L2016.1,478.7 L2016.8,475.8 L2017.6,472.9 L2018.3,470.0 L2019.1,467.1 L2019.8,464.2 L2020.6,461.3 L2021.3,458.3 L2022.1,455.4 L2022.8,452.5 L2023.6,449.6 L2024.4,446.7 L2025.2,443.8 L2025.9,440.9 L2026.7,438.0 L2027.5,435.1 L2028.3,432.2 L2029.1,429.3 L2029.9,426.5 L2030.8,423.6 L2031.6,420.7 L2032.4,417.8 L2033.3,414.9 L2034.2,412.0 L2035.0,409.2 L2035.9,406.3 L2036.8,403.4 L2037.7,400.6 L2038.6,397.7 L2039.6,394.9 L2040.5,392.0 L2041.5,389.2 L2042.4,386.4 L2043.4,383.5 L2044.4,380.7 L2045.5,377.9 L2046.5,375.1 L2047.5,372.3 L2048.6,369.4 L2049.7,366.6 L2050.8,363.8 L2051.8,361.0 L2053.0,358.3 L2054.1,355.5 L2055.2,352.7 L2056.3,349.9 L2057.4,347.1 L2058.6,344.3 L2059.7,341.5 L2060.9,338.8 L2062.0,336.0 L2063.2,333.2 L2064.4,330.4 L2065.6,327.7 L2066.8,324.9 L2068.0,322.2 L2069.2,319.4 L2070.5,316.7 L2071.7,313.9 L2073.0,311.2 L2074.3,308.5 L2075.6,305.8 L2076.9,303.1 L2078.2,300.4 L2079.6,297.7 L2080.9,295.1 L2082.3,292.4 L2083.7,289.8 L2085.2,287.1 L2086.6,284.5 L2088.1,281.9 L2089.6,279.3 L2091.2,276.7 L2092.7,274.2 L2094.3,271.6 L2095.9,269.1 L2097.5,266.6 L2099.2,264.1 L2100.9,261.6 L2102.6,259.2 L2104.4,256.7 L2106.2,254.3 L2108.0,251.9 L2109.8,249.5 L2111.7,247.2 L2113.6,244.8 L2115.6,242.5 L2117.5,240.3 L2119.5,238.0 L2121.5,235.8 L2123.6,233.6 L2125.7,231.4 L2127.8,229.3 L2129.9,227.2 L2132.1,225.1 L2134.3,223.0 L2136.5,221.0 L2138.8,219.0 L2141.1,217.1 L2143.4,215.2 L2145.7,213.3 L2148.1,211.5 L2150.5,209.7 L2152.9,207.9 L2155.4,206.2 L2157.8,204.6 L2160.3,202.9 L2162.9,201.3 L2165.4,199.8 L2168.0,198.3 L2170.6,196.8 L2173.3,195.4 L2176.0,194.1 L2178.6,192.8 L2181.4,191.5 L2184.1,190.3 L2186.9,189.1 L2189.7,188.0 L2192.5,187.0 L2195.4,186.0 L2198.2,185.0 L2201.1,184.1 L2204.1,183.3 L2207.0,182.5 L2210.0,181.8" stroke="#880015" stroke-width="8.7" fill="none" stroke-linecap="round" stroke-linejoin="round"/>
<path d="M289.4,1078.5 L292.4,1078.5 L295.4,1078.4 L298.4,1078.4 L301.4,1078.4 L304.4,1078.4 L307.4,1078.4 L310.4,1078.3 L313.4,1078.3 L316.5,1078.3 L319.5,1078.3 L322.5,1078.3 L325.5,1078.3 L328.5,1078.3 L331.5,1078.3 L334.5,1078.2 L337.5,1078.2 L340.5,1078.2 L343.5,1078.2 L346.5,1078.2 L349.5,1078.2 L352.5,1078.2 L355.5,1078.2 L358.5,1078.2 L361.5,1078.2 L364.6,1078.2 L367.6,1078.2 L370.6,1078.3 L373.6,1078.3 L376.6,1078.3 L379.6,1078.3 L382.6,1078.3 L385.6,1078.3 L388.6,1078.3 L391.6,1078.3 L394.6,1078.3 L397.6,1078.4 L400.6,1078.4 L403.6,1078.4 L406.6,1078.4 L409.6,1078.4 L412.7,1078.5 L415.7,1078.5 L418.7,1078.5 L421.7,1078.5 L424.7,1078.6 L427.7,1078.6 L430.7,1078.6 L433.7,1078.6 L436.7,1078.7 L439.7,1078.7 L442.7,1078.7 L445.7,1078.7 L448.7,1078.8 L451.7,1078.8 L454.7,1078.8 L457.7,1078.9 L460.8,1078.9 L463.8,1078.9 L466.8,1079.0 L469.8,1079.0 L472.8,1079.1 L475.8,1079.1 L478.8,1079.1 L481.8,1079.2 L484.8,1079.2 L487.8,1079.2 L490.8,1079.3 L493.8,1079.3 L496.8,1079.4 L499.8,1079.4 L502.8,1079.4 L505.9,1079.5 L508.9,1079.5 L511.9,1079.6 L514.9,1079.6 L517.9,1079.7 L520.9,1079.7 L523.9,1079.7 L526.9,1079.8 L529.9,1079.8 L532.9,1079.9 L535.9,1079.9 L538.9,1080.0 L541.9,1080.0 L544.9,1080.1 L547.9,1080.1 L550.9,1080.2 L554.0,1080.2 L557.0,1080.3 L560.0,1080.3 L563.0,1080.3 L566.0,1080.4 L569.0,1080.4 L572.0,1080.5 L575.0,1080.5 L578.0,1080.6 L581.0,1080.6 L584.0,1080.7 L587.0,1080.7 L590.0,1080.8 L593.0,1080.8 L596.0,1080.9 L599.0,1080.9 L602.1,1081.0 L605.1,1081.0 L608.1,1081.1 L611.1,1081.1 L614.1,1081.2 L617.1,1081.2 L620.1,1081.3 L623.1,1081.3 L626.1,1081.3 L629.1,1081.4 L632.1,1081.4 L635.1,1081.5 L638.1,1081.5 L641.1,1081.6 L644.1,1081.6 L647.2,1081.7 L650.2,1081.7 L653.2,1081.8 L656.2,1081.8 L659.2,1081.8 L662.2,1081.9 L665.2,1081.9 L668.2,1082.0 L671.2,1082.0 L674.2,1082.1 L677.2,1082.1 L680.2,1082.1 L683.2,1082.2 L686.2,1082.2 L689.2,1082.3 L692.2,1082.3 L695.3,1082.3 L698.3,1082.4 L701.3,1082.4 L704.3,1082.4 L707.3,1082.5 L710.3,1082.5 L713.3,1082.6 L716.3,1082.6 L719.3,1082.6 L722.3,1082.7 L725.3,1082.7 L728.3,1082.7 L731.3,1082.7 L734.3,1082.8 L737.3,1082.8 L740.3,1082.8 L743.4,1082.9 L746.4,1082.9 L749.4,1082.9 L752.4,1082.9 L755.4,1083.0 L758.4,1083.0 L761.4,1083.0 L764.4,1083.0 L767.4,1083.1 L770.4,1083.1 L773.4,1083.1 L776.4,1083.1 L779.4,1083.1 L782.4,1083.1 L785.4,1083.2 L788.4,1083.2 L791.5,1083.2 L794.5,1083.2 L797.5,1083.2 L800.5,1083.2 L803.5,1083.2 L806.5,1083.2 L809.5,1083.2 L812.5,1083.3 L815.5,1083.3 L818.5,1083.3 L821.5,1083.3 L824.5,1083.3 L827.5,1083.3 L830.5,1083.3 L833.5,1083.3 L836.5,1083.3 L839.6,1083.3 L842.6,1083.2 L845.6,1083.2 L848.6,1083.2 L851.6,1083.2 L854.6,1083.2 L857.6,1083.2 L860.6,1083.2 L863.6,1083.2 L866.6,1083.1 L869.6,1083.1 L872.6,1083.1 L875.6,1083.1 L878.6,1083.1 L881.6,1083.0 L884.6,1083.0 L887.6,1083.0 L890.7,1083.0 L893.7,1082.9 L896.7,1082.9 L899.7,1082.9 L902.7,1082.8 L905.7,1082.8 L908.7,1082.7 L911.7,1082.7 L914.7,1082.7 L917.7,1082.6 L920.7,1082.6 L923.7,1082.5 L926.7,1082.5 L929.7,1082.4 L932.7,1082.4 L935.7,1082.3 L938.7,1082.3 L941.8,1082.2 L944.8,1082.2 L947.8,1082.1 L950.8,1082.0 L953.8,1082.0 L956.8,1081.9 L959.8,1081.8 L962.8,1081.8 L965.8,1081.7 L968.8,1081.6 L971.8,1081.5 L974.8,1081.5 L977.8,1081.4 L980.8,1081.3 L983.8,1081.2 L986.8,1081.1 L989.8,1081.0 L992.9,1080.9 L995.9,1080.9 L998.9,1080.8 L1001.9,1080.7 L1004.9,1080.6 L1007.9,1080.5 L1010.9,1080.4 L1013.9,1080.3 L1016.9,1080.1 L1019.9,1080.0 L1022.9,1079.9 L1025.9,1079.8 L1028.9,1079.7 L1031.9,1079.6 L1034.9,1079.5 L1037.9,1079.3 L1040.9,1079.2 L1043.9,1079.1 L1047.0,1079.0 L1050.0,1078.8 L1053.0,1078.7 L1056.0,1078.6 L1059.0,1078.4 L1062.0,1078.3 L1065.0,1078.1 L1068.0,1078.0 L1071.0,1077.8 L1074.0,1077.7 L1077.0,1077.5 L1080.0,1077.4 L1083.0,1077.2 L1086.0,1077.0 L1089.0,1076.9 L1092.0,1076.7 L1095.0,1076.5 L1098.0,1076.4 L1101.1,1076.2 L1104.1,1076.0 L1107.1,1075.8 L1110.1,1075.7 L1113.1,1075.5 L1116.1,1075.3 L1119.1,1075.1 L1122.1,1074.9 L1125.1,1074.7 L1128.1,1074.5 L1131.1,1074.3 L1134.1,1074.0 L1137.1,1073.8 L1140.1,1073.6 L1143.1,1073.3 L1146.1,1073.1 L1149.1,1072.8 L1152.1,1072.5 L1155.0,1072.2 L1158.0,1071.9 L1161.0,1071.6 L1164.0,1071.3 L1167.0,1070.9 L1169.9,1070.6 L1172.9,1070.2 L1175.9,1069.8 L1178.8,1069.4 L1181.8,1069.0 L1184.7,1068.6 L1187.7,1068.1 L1190.6,1067.6 L1193.6,1067.1 L1196.5,1066.6 L1199.4,1066.1 L1202.4,1065.5 L1205.3,1064.9 L1208.2,1064.3 L1211.1,1063.7 L1214.0,1063.0 L1216.9,1062.4 L1219.8,1061.7 L1222.7,1061.0 L1225.6,1060.2 L1228.5,1059.5 L1231.3,1058.7 L1234.2,1057.9 L1237.1,1057.1 L1240.0,1056.3 L1242.9,1055.4 L1245.7,1054.6 L1248.6,1053.7 L1251.5,1052.9 L1254.4,1052.0 L1257.3,1051.1 L1260.2,1050.2 L1263.1,1049.3 L1266.0,1048.4 L1268.9,1047.4 L1271.8,1046.5 L1274.7,1045.6 L1277.6,1044.6 L1280.5,1043.6 L1283.4,1042.6 L1286.3,1041.6 L1289.2,1040.6 L1292.0,1039.6 L1294.9,1038.5 L1297.8,1037.4 L1300.7,1036.4 L1303.5,1035.3 L1306.3,1034.1 L1309.2,1033.0 L1312.0,1031.8 L1314.8,1030.6 L1317.6,1029.4 L1320.4,1028.2 L1323.2,1026.9 L1325.9,1025.7 L1328.6,1024.4 L1331.4,1023.0 L1334.1,1021.7 L1336.7,1020.3 L1339.4,1018.9 L1342.0,1017.4 L1344.7,1016.0 L1347.3,1014.5 L1349.8,1013.0 L1352.4,1011.4 L1354.9,1009.8 L1357.4,1008.2 L1359.9,1006.5 L1362.3,1004.9 L1364.7,1003.1 L1367.1,1001.4 L1369.5,999.6 L1371.8,997.8 L1374.1,995.9 L1376.4,994.0 L1378.6,992.1 L1380.9,990.2 L1383.1,988.2 L1385.2,986.2 L1387.4,984.2 L1389.5,982.2 L1391.7,980.1 L1393.7,978.0 L1395.8,975.9 L1397.9,973.7 L1399.9,971.6 L1401.9,969.4 L1403.9,967.2 L1405.9,964.9 L1407.8,962.7 L1409.7,960.4 L1411.6,958.1 L1413.5,955.8 L1415.4,953.4 L1417.3,951.1 L1419.1,948.7 L1421.0,946.3 L1422.8,943.9 L1424.6,941.5 L1426.3,939.1 L1428.1,936.6 L1429.9,934.2 L1431.6,931.7 L1433.3,929.2 L1435.1,926.7 L1436.8,924.2 L1438.5,921.7 L1440.1,919.2 L1441.8,916.6 L1443.5,914.1 L1445.1,911.5 L1446.8,909.0 L1448.4,906.4 L1450.0,903.8 L1451.7,901.3 L1453.3,898.7 L1454.9,896.1 L1456.5,893.5 L1458.1,890.9 L1459.6,888.3 L1461.2,885.7 L1462.8,883.1 L1464.4,880.5 L1465.9,877.9 L1467.5,875.3 L1469.1,872.7 L1470.6,870.1 L1472.2,867.6 L1473.7,865.0 L1475.3,862.4 L1476.8,859.8 L1478.4,857.2 L1479.9,854.6 L1481.4,852.1 L1483.0,849.5 L1484.5,846.9 L1486.1,844.4 L1487.6,841.8 L1489.1,839.2 L1490.7,836.7 L1492.2,834.1 L1493.7,831.5 L1495.3,829.0 L1496.8,826.4 L1498.3,823.8 L1499.8,821.3 L1501.4,818.7 L1502.9,816.2 L1504.4,813.6 L1506.0,811.1 L1507.5,808.5 L1509.0,805.9 L1510.5,803.4 L1512.1,800.8 L1513.6,798.3 L1515.1,795.7 L1516.6,793.2 L1518.2,790.6 L1519.7,788.0 L1521.2,785.5 L1522.7,782.9 L1524.3,780.4 L1525.8,777.8 L1527.3,775.2 L1528.8,772.7 L1530.4,770.1 L1531.9,767.5 L1533.4,765.0 L1535.0,762.4 L1536.5,759.8 L1538.0,757.3 L1539.6,754.7 L1541.1,752.1 L1542.7,749.5 L1544.2,747.0 L1545.8,744.4 L1547.3,741.8 L1548.9,739.2 L1550.4,736.6 L1552.0,734.0 L1553.5,731.4 L1555.1,728.8 L1556.6,726.2 L1558.2,723.6 L1559.7,721.0 L1561.3,718.4 L1562.8,715.8 L1564.3,713.2 L1565.9,710.6 L1567.4,708.0 L1569.0,705.4 L1570.5,702.8 L1572.0,700.2 L1573.6,697.5 L1575.1,694.9 L1576.6,692.3 L1578.1,689.7 L1579.6,687.1 L1581.1,684.5 L1582.6,681.8 L1584.1,679.2 L1585.6,676.6 L1587.1,674.0 L1588.6,671.4 L1590.0,668.7 L1591.5,666.1 L1593.0,663.5 L1594.4,660.9 L1595.9,658.3 L1597.4,655.7 L1598.9,653.1 L1600.4,650.6 L1601.9,648.0 L1603.5,645.4 L1605.0,642.9 L1606.6,640.4 L1608.2,637.9 L1609.8,635.4 L1611.4,632.9 L1613.1,630.4 L1614.8,628.0 L1616.5,625.5 L1618.3,623.1 L1620.1,620.7 L1621.9,618.4 L1623.7,616.0 L1625.6,613.7 L1627.5,611.4 L1629.5,609.1 L1631.5,606.8 L1633.4,604.5 L1635.4,602.3 L1637.4,600.0 L1639.4,597.7 L1641.3,595.5 L1643.3,593.2 L1645.2,590.8 L1647.1,588.5 L1649.0,586.2 L1650.9,583.8 L1652.7,581.5 L1654.6,579.1 L1656.4,576.7 L1658.2,574.3 L1660.0,571.9 L1661.8,569.5 L1663.5,567.1 L1665.3,564.6 L1667.0,562.2 L1668.8,559.8 L1670.5,557.3 L1672.2,554.9 L1674.0,552.4 L1675.7,549.9 L1677.4,547.5 L1679.1,545.0 L1680.8,542.5 L1682.5,540.0 L1684.2,537.5 L1685.8,535.1 L1687.5,532.6 L1689.2,530.1 L1690.9,527.6 L1692.6,525.1 L1694.3,522.6 L1696.0,520.2 L1697.7,517.7 L1699.4,515.2 L1701.1,512.7 L1702.9,510.3 L1704.6,507.8 L1706.3,505.4 L1708.1,502.9 L1709.9,500.5 L1711.6,498.0 L1713.4,495.6 L1715.2,493.2 L1717.0,490.8 L1718.8,488.4 L1720.7,486.0 L1722.5,483.6 L1724.4,481.2 L1726.3,478.9 L1728.2,476.5 L1730.1,474.2 L1732.0,471.9 L1734.0,469.6 L1735.9,467.3 L1737.9,465.0 L1739.9,462.8 L1741.9,460.5 L1743.9,458.3 L1746.0,456.1 L1748.0,453.9 L1750.1,451.8 L1752.2,449.6 L1754.3,447.5 L1756.5,445.4 L1758.7,443.4 L1760.8,441.3 L1763.0,439.3 L1765.3,437.3 L1767.5,435.4 L1769.8,433.4 L1772.1,431.5 L1774.4,429.6 L1776.8,427.8 L1779.1,425.9 L1781.5,424.1 L1783.9,422.4 L1786.3,420.6 L1788.8,418.9 L1791.2,417.2 L1793.7,415.5 L1796.2,413.8 L1798.7,412.2 L1801.2,410.5 L1803.8,408.9 L1806.3,407.3 L1808.9,405.7 L1811.5,404.1 L1814.0,402.6 L1816.6,401.0 L1819.2,399.5 L1821.8,398.0 L1824.4,396.4 L1827.0,394.9 L1829.6,393.4 L1832.2,391.9 L1834.9,390.4 L1837.5,388.9 L1840.1,387.4 L1842.8,386.0 L1845.4,384.5 L1848.1,383.1 L1850.7,381.6 L1853.4,380.2 L1856.0,378.7 L1858.7,377.3 L1861.4,375.9 L1864.0,374.5 L1866.7,373.1 L1869.4,371.7 L1872.1,370.4 L1874.8,369.0 L1877.5,367.7 L1880.2,366.3 L1882.9,365.0 L1885.6,363.7 L1888.3,362.4 L1891.0,361.1 L1893.8,359.8 L1896.5,358.5 L1899.2,357.3 L1902.0,356.0 L1904.7,354.8 L1907.5,353.5 L1910.2,352.3 L1913.0,351.1 L1915.7,350.0 L1918.5,348.8 L1921.3,347.6 L1924.1,346.5 L1926.8,345.3 L1929.6,344.2 L1932.4,343.1 L1935.2,342.0 L1938.0,341.0 L1940.8,339.9 L1943.6,338.9 L1946.5,337.8 L1949.3,336.8 L1952.1,335.8 L1954.9,334.8 L1957.8,333.9 L1960.6,332.9 L1963.5,332.0 L1966.3,331.0 L1969.2,330.1 L1972.0,329.3 L1974.9,328.4 L1977.8,327.5 L1980.6,326.7 L1983.5,325.9 L1986.4,325.1 L1989.3,324.3 L1992.2,323.5 L1995.1,322.8 L1998.0,322.0 L2000.9,321.3 L2003.8,320.6 L2006.7,320.0 L2009.6,319.3 L2012.5,318.7 L2015.5,318.0 L2018.4,317.4 L2021.3,316.9 L2024.3,316.3 L2027.2,315.8 L2030.2,315.2 L2033.1,314.7 L2036.1,314.2 L2039.1,313.8 L2042.0,313.3 L2045.0,312.9 L2048.0,312.5 L2050.9,312.1 L2053.9,311.7 L2056.9,311.3 L2059.9,310.9 L2062.9,310.6 L2065.9,310.2 L2068.9,309.9 L2071.9,309.6 L2074.9,309.3 L2077.9,309.0 L2080.9,308.7 L2083.9,308.4 L2086.9,308.2 L2089.9,307.9 L2092.9,307.7 L2095.9,307.4 L2098.9,307.2 L2102.0,307.0 L2105.0,306.8 L2108.0,306.6 L2111.0,306.4 L2114.0,306.2 L2117.0,306.0 L2120.1,305.8 L2123.1,305.6 L2126.1,305.4 L2129.1,305.2 L2132.1,305.0 L2135.2,304.9 L2138.2,304.7 L2141.2,304.5 L2144.2,304.3 L2147.2,304.1 L2150.2,304.0 L2153.2,303.8 L2156.3,303.6 L2159.3,303.4 L2162.3,303.2 L2165.3,303.0 L2168.3,302.9 L2171.3,302.7 L2174.3,302.5 L2177.3,302.2 L2180.3,302.0 L2183.3,301.8 L2186.2,301.6 L2189.2,301.4 L2192.2,301.1 L2195.2,300.9 L2198.2,300.6 L2201.1,300.4 L2204.1,300.1 L2207.1,299.8 L2210.0,299.5 L2213.0,299.2" stroke="#22B14C" stroke-width="8.7" fill="none" stroke-linecap="round" stroke-linejoin="round"/>
<path d="M280.5,1094.0 L281.1,1091.0 L281.7,1088.1 L282.3,1085.1 L282.9,1082.2 L283.5,1079.2 L284.1,1076.3 L284.7,1073.4 L285.4,1070.4 L286.0,1067.5 L286.6,1064.5 L287.3,1061.6 L287.9,1058.7 L288.5,1055.7 L289.2,1052.8 L289.8,1049.9 L290.5,1046.9 L291.1,1044.0 L291.8,1041.1 L292.4,1038.1 L293.1,1035.2 L293.7,1032.3 L294.4,1029.4 L295.1,1026.4 L295.7,1023.5 L296.4,1020.6 L297.1,1017.7 L297.7,1014.7 L298.4,1011.8 L299.1,1008.9 L299.8,1006.0 L300.4,1003.1 L301.1,1000.1 L301.8,997.2 L302.5,994.3 L303.2,991.4 L303.8,988.5 L304.5,985.5 L305.2,982.6 L305.9,979.7 L306.6,976.8 L307.2,973.9 L307.9,971.0 L308.6,968.0 L309.3,965.1 L310.0,962.2 L310.6,959.3 L311.3,956.3 L312.0,953.4 L312.7,950.5 L313.4,947.6 L314.0,944.7 L314.7,941.7 L315.4,938.8 L316.1,935.9 L316.7,933.0 L317.4,930.0 L318.1,927.1 L318.7,924.2 L319.4,921.2 L320.0,918.3 L320.7,915.4 L321.4,912.4 L322.0,909.5 L322.7,906.6 L323.3,903.6 L324.0,900.7 L324.6,897.7 L325.2,894.8 L325.9,891.8 L326.5,888.9 L327.1,885.9 L327.8,883.0 L328.4,880.0 L329.0,877.1 L329.6,874.1 L330.3,871.2 L330.9,868.2 L331.5,865.3 L332.2,862.3 L332.8,859.4 L333.5,856.4 L334.1,853.5 L334.8,850.5 L335.5,847.6 L336.1,844.7 L336.8,841.7 L337.5,838.8 L338.2,835.9 L338.9,833.0 L339.7,830.0 L340.4,827.1 L341.2,824.2 L341.9,821.3 L342.7,818.4 L343.5,815.5 L344.3,812.6 L345.1,809.8 L346.0,806.9 L346.8,804.0 L347.7,801.2 L348.6,798.3 L349.5,795.5 L350.5,792.7 L351.5,789.8 L352.4,787.0 L353.4,784.2 L354.5,781.4 L355.5,778.6 L356.6,775.8 L357.7,773.1 L358.9,770.3 L360.0,767.6 L361.2,764.8 L362.4,762.1 L363.6,759.4 L364.8,756.7 L366.1,753.9 L367.4,751.2 L368.7,748.6 L370.0,745.9 L371.3,743.2 L372.7,740.5 L374.1,737.9 L375.4,735.2 L376.8,732.5 L378.2,729.9 L379.7,727.3 L381.1,724.6 L382.5,722.0 L384.0,719.3 L385.4,716.7 L386.9,714.1 L388.4,711.5 L389.9,708.9 L391.4,706.2 L392.9,703.6 L394.4,701.0 L395.9,698.4 L397.4,695.8 L399.0,693.2 L400.5,690.6 L402.0,688.0 L403.5,685.4 L405.1,682.8 L406.6,680.2 L408.1,677.6 L409.7,675.0 L411.2,672.4 L412.7,669.8 L414.3,667.2 L415.8,664.6 L417.4,662.1 L418.9,659.5 L420.5,656.9 L422.1,654.3 L423.6,651.8 L425.2,649.2 L426.8,646.6 L428.4,644.1 L430.0,641.5 L431.6,639.0 L433.2,636.5 L434.9,633.9 L436.5,631.4 L438.1,628.9 L439.8,626.4 L441.5,623.9 L443.2,621.5 L444.9,619.0 L446.6,616.5 L448.3,614.1 L450.0,611.6 L451.8,609.2 L453.5,606.8 L455.3,604.4 L457.1,602.0 L458.9,599.6 L460.7,597.3 L462.5,594.9 L464.4,592.6 L466.3,590.3 L468.1,588.0 L470.1,585.7 L472.0,583.4 L473.9,581.1 L475.9,578.9 L477.9,576.7 L479.9,574.5 L481.9,572.3 L484.0,570.1 L486.0,567.9 L488.1,565.8 L490.2,563.7 L492.3,561.6 L494.5,559.5 L496.6,557.4 L498.8,555.3 L500.9,553.2 L503.1,551.1 L505.3,549.1 L507.5,547.0 L509.7,545.0 L511.9,542.9 L514.1,540.9 L516.3,538.8 L518.5,536.8 L520.7,534.8 L523.0,532.7 L525.2,530.7 L527.4,528.6 L529.6,526.6 L531.8,524.6 L534.1,522.5 L536.3,520.5 L538.6,518.5 L540.8,516.5 L543.1,514.5 L545.3,512.5 L547.6,510.5 L549.9,508.6 L552.2,506.6 L554.5,504.7 L556.8,502.8 L559.1,500.9 L561.5,499.0 L563.8,497.1 L566.2,495.3 L568.6,493.5 L571.0,491.7 L573.4,489.9 L575.8,488.2 L578.3,486.4 L580.7,484.8 L583.2,483.1 L585.7,481.4 L588.2,479.8 L590.8,478.2 L593.3,476.7 L595.9,475.1 L598.4,473.6 L601.0,472.1 L603.6,470.6 L606.2,469.1 L608.9,467.7 L611.5,466.2 L614.1,464.8 L616.8,463.4 L619.4,462.0 L622.1,460.6 L624.7,459.3 L627.4,457.9 L630.1,456.6 L632.8,455.3 L635.5,454.0 L638.2,452.7 L640.9,451.4 L643.6,450.2 L646.3,448.9 L649.0,447.7 L651.7,446.5 L654.5,445.3 L657.2,444.1 L660.0,442.9 L662.7,441.8 L665.5,440.6 L668.3,439.5 L671.0,438.4 L673.8,437.3 L676.6,436.2 L679.4,435.1 L682.2,434.1 L685.0,433.0 L687.8,432.0 L690.6,430.9 L693.4,429.9 L696.3,428.9 L699.1,427.9 L701.9,426.9 L704.7,426.0 L707.6,425.0 L710.4,424.0 L713.3,423.1 L716.1,422.2 L719.0,421.3 L721.9,420.4 L724.7,419.5 L727.6,418.6 L730.5,417.7 L733.4,416.8 L736.2,416.0 L739.1,415.1 L742.0,414.3 L744.9,413.5 L747.8,412.7 L750.7,411.9 L753.6,411.1 L756.5,410.3 L759.4,409.5 L762.3,408.7 L765.2,408.0 L768.2,407.2 L771.1,406.5 L774.0,405.7 L776.9,405.0 L779.8,404.3 L782.8,403.6 L785.7,402.9 L788.6,402.2 L791.6,401.5 L794.5,400.8 L797.4,400.1 L800.4,399.4 L803.3,398.8 L806.3,398.1 L809.2,397.5 L812.2,396.8 L815.1,396.2 L818.1,395.5 L821.0,394.9 L824.0,394.3 L826.9,393.7 L829.9,393.1 L832.8,392.5 L835.8,391.9 L838.7,391.3 L841.7,390.7 L844.6,390.1 L847.6,389.5 L850.6,389.0 L853.5,388.4 L856.5,387.8 L859.4,387.3 L862.4,386.7 L865.3,386.2 L868.3,385.6 L871.3,385.1 L874.2,384.6 L877.2,384.1 L880.1,383.5 L883.1,383.0 L886.1,382.5 L889.0,382.0 L892.0,381.5 L895.0,381.0 L897.9,380.5 L900.9,380.0 L903.9,379.5 L906.8,379.1 L909.8,378.6 L912.8,378.1 L915.7,377.6 L918.7,377.2 L921.7,376.7 L924.6,376.3 L927.6,375.8 L930.6,375.4 L933.6,374.9 L936.5,374.5 L939.5,374.1 L942.5,373.7 L945.4,373.2 L948.4,372.8 L951.4,372.4 L954.4,372.0 L957.3,371.6 L960.3,371.2 L963.3,370.8 L966.3,370.4 L969.2,370.0 L972.2,369.6 L975.2,369.3 L978.2,368.9 L981.2,368.5 L984.1,368.2 L987.1,367.8 L990.1,367.4 L993.1,367.1 L996.0,366.7 L999.0,366.4 L1002.0,366.0 L1005.0,365.7 L1008.0,365.4 L1011.0,365.0 L1013.9,364.7 L1016.9,364.4 L1019.9,364.1 L1022.9,363.8 L1025.9,363.4 L1028.9,363.1 L1031.8,362.8 L1034.8,362.5 L1037.8,362.2 L1040.8,361.9 L1043.8,361.6 L1046.8,361.4 L1049.8,361.1 L1052.7,360.8 L1055.7,360.5 L1058.7,360.2 L1061.7,360.0 L1064.7,359.7 L1067.7,359.4 L1070.7,359.2 L1073.7,358.9 L1076.6,358.7 L1079.6,358.4 L1082.6,358.2 L1085.6,357.9 L1088.6,357.7 L1091.6,357.4 L1094.6,357.2 L1097.6,357.0 L1100.6,356.8 L1103.6,356.5 L1106.6,356.3 L1109.5,356.1 L1112.5,355.9 L1115.5,355.7 L1118.5,355.4 L1121.5,355.2 L1124.5,355.0 L1127.5,354.8 L1130.5,354.6 L1133.5,354.4 L1136.5,354.2 L1139.5,354.0 L1142.5,353.9 L1145.5,353.7 L1148.5,353.5 L1151.5,353.3 L1154.5,353.1 L1157.5,353.0 L1160.5,352.8 L1163.5,352.6 L1166.4,352.4 L1169.4,352.3 L1172.4,352.1 L1175.4,352.0 L1178.4,351.8 L1181.4,351.6 L1184.4,351.5 L1187.4,351.3 L1190.4,351.2 L1193.4,351.0 L1196.4,350.9 L1199.4,350.8 L1202.4,350.6 L1205.4,350.5 L1208.4,350.4 L1211.4,350.2 L1214.4,350.1 L1217.4,350.0 L1220.4,349.8 L1223.4,349.7 L1226.4,349.6 L1229.4,349.5 L1232.4,349.4 L1235.4,349.2 L1238.4,349.1 L1241.4,349.0 L1244.4,348.9 L1247.4,348.8 L1250.4,348.7 L1253.4,348.6 L1256.4,348.5 L1259.4,348.4 L1262.4,348.3 L1265.4,348.2 L1268.4,348.1 L1271.4,348.0 L1274.4,347.9 L1277.4,347.8 L1280.4,347.7 L1283.4,347.6 L1286.4,347.5 L1289.5,347.4 L1292.5,347.4 L1295.5,347.3 L1298.5,347.2 L1301.5,347.1 L1304.5,347.0 L1307.5,347.0 L1310.5,346.9 L1313.5,346.8 L1316.5,346.7 L1319.5,346.7 L1322.5,346.6 L1325.5,346.5 L1328.5,346.5 L1331.5,346.4 L1334.5,346.3 L1337.5,346.3 L1340.5,346.2 L1343.5,346.1 L1346.5,346.1 L1349.5,346.0 L1352.5,346.0 L1355.5,345.9 L1358.5,345.9 L1361.5,345.8 L1364.5,345.7 L1367.5,345.7 L1370.5,345.6 L1373.5,345.6 L1376.5,345.5 L1379.5,345.5 L1382.5,345.4 L1385.5,345.4 L1388.5,345.4 L1391.5,345.3 L1394.5,345.3 L1397.5,345.2 L1400.6,345.2 L1403.6,345.1 L1406.6,345.1 L1409.6,345.1 L1412.6,345.0 L1415.6,345.0 L1418.6,345.0 L1421.6,344.9 L1424.6,344.9 L1427.6,344.9 L1430.6,344.8 L1433.6,344.8 L1436.6,344.8 L1439.6,344.7 L1442.6,344.7 L1445.6,344.7 L1448.6,344.7 L1451.6,344.6 L1454.6,344.6 L1457.6,344.6 L1460.6,344.6 L1463.6,344.5 L1466.6,344.5 L1469.6,344.5 L1472.6,344.5 L1475.6,344.5 L1478.6,344.4 L1481.6,344.4 L1484.6,344.4 L1487.7,344.4 L1490.7,344.4 L1493.7,344.4 L1496.7,344.4 L1499.7,344.3 L1502.7,344.3 L1505.7,344.3 L1508.7,344.3 L1511.7,344.3 L1514.7,344.3 L1517.7,344.3 L1520.7,344.3 L1523.7,344.3 L1526.7,344.3 L1529.7,344.3 L1532.7,344.2 L1535.7,344.2 L1538.7,344.2 L1541.7,344.2 L1544.7,344.2 L1547.7,344.2 L1550.7,344.2 L1553.7,344.2 L1556.7,344.2 L1559.7,344.2 L1562.8,344.2 L1565.8,344.2 L1568.8,344.2 L1571.8,344.2 L1574.8,344.2 L1577.8,344.2 L1580.8,344.2 L1583.8,344.3 L1586.8,344.3 L1589.8,344.3 L1592.8,344.3 L1595.8,344.3 L1598.8,344.3 L1601.8,344.3 L1604.8,344.3 L1607.8,344.3 L1610.8,344.3 L1613.8,344.3 L1616.8,344.3 L1619.8,344.3 L1622.8,344.3 L1625.8,344.4 L1628.8,344.4 L1631.9,344.4 L1634.9,344.4 L1637.9,344.4 L1640.9,344.4 L1643.9,344.4 L1646.9,344.4 L1649.9,344.5 L1652.9,344.5 L1655.9,344.5 L1658.9,344.5 L1661.9,344.5 L1664.9,344.5 L1667.9,344.5 L1670.9,344.5 L1673.9,344.6 L1676.9,344.6 L1679.9,344.6 L1682.9,344.6 L1685.9,344.6 L1688.9,344.6 L1692.0,344.7 L1695.0,344.7 L1698.0,344.7 L1701.0,344.7 L1704.0,344.7 L1707.0,344.7 L1710.0,344.8 L1713.0,344.8 L1716.0,344.8 L1719.0,344.8 L1722.0,344.8 L1725.0,344.8 L1728.0,344.9 L1731.0,344.9 L1734.0,344.9 L1737.0,344.9 L1740.0,344.9 L1743.0,344.9 L1746.0,345.0 L1749.1,345.0 L1752.1,345.0 L1755.1,345.0 L1758.1,345.0 L1761.1,345.0 L1764.1,345.1 L1767.1,345.1 L1770.1,345.1 L1773.1,345.1 L1776.1,345.1 L1779.1,345.2 L1782.1,345.2 L1785.1,345.2 L1788.1,345.2 L1791.1,345.2 L1794.1,345.2 L1797.1,345.3 L1800.2,345.3 L1803.2,345.3 L1806.2,345.3 L1809.2,345.3 L1812.2,345.3 L1815.2,345.3 L1818.2,345.4 L1821.2,345.4 L1824.2,345.4 L1827.2,345.4 L1830.2,345.4 L1833.2,345.4 L1836.2,345.5 L1839.2,345.5 L1842.2,345.5 L1845.2,345.5 L1848.2,345.5 L1851.3,345.5 L1854.3,345.5 L1857.3,345.5 L1860.3,345.6 L1863.3,345.6 L1866.3,345.6 L1869.3,345.6 L1872.3,345.6 L1875.3,345.6 L1878.3,345.6 L1881.3,345.6 L1884.3,345.6 L1887.3,345.6 L1890.3,345.6 L1893.3,345.7 L1896.4,345.7 L1899.4,345.7 L1902.4,345.7 L1905.4,345.7 L1908.4,345.7 L1911.4,345.7 L1914.4,345.7 L1917.4,345.7 L1920.4,345.7 L1923.4,345.7 L1926.4,345.7 L1929.4,345.7 L1932.4,345.7 L1935.4,345.8 L1938.4,345.8 L1941.4,345.8 L1944.5,345.8 L1947.5,345.8 L1950.5,345.8 L1953.5,345.8 L1956.5,345.9 L1959.5,345.9 L1962.5,345.9 L1965.5,345.9 L1968.5,346.0 L1971.5,346.0 L1974.5,346.0 L1977.5,346.1 L1980.5,346.1 L1983.5,346.2 L1986.5,346.2 L1989.5,346.3 L1992.5,346.3 L1995.5,346.4 L1998.5,346.4 L2001.5,346.5 L2004.5,346.6 L2007.5,346.6 L2010.5,346.7 L2013.5,346.8 L2016.5,346.9 L2019.5,347.0 L2022.5,347.1 L2025.5,347.2 L2028.5,347.3 L2031.5,347.4 L2034.5,347.5 L2037.5,347.6 L2040.5,347.8 L2043.5,347.9 L2046.5,348.0 L2049.5,348.2 L2052.5,348.3 L2055.5,348.5 L2058.5,348.7 L2061.5,348.8 L2064.4,349.0 L2067.4,349.2 L2070.4,349.4 L2073.4,349.6 L2076.4,349.8 L2079.4,350.0 L2082.4,350.2 L2085.4,350.5 L2088.4,350.7 L2091.3,350.9 L2094.3,351.2 L2097.3,351.5 L2100.3,351.7 L2103.3,352.0 L2106.3,352.3 L2109.2,352.6 L2112.2,352.9 L2115.2,353.2 L2118.2,353.5 L2121.1,353.9 L2124.1,354.2 L2127.1,354.6 L2130.1,354.9 L2133.1,355.3 L2136.0,355.7 L2139.0,356.1 L2142.0,356.5 L2144.9,356.9 L2147.9,357.3 L2150.9,357.7 L2153.8,358.2 L2156.8,358.6 L2159.8,359.1 L2162.7,359.6 L2165.7,360.1 L2168.7,360.6 L2171.6,361.1 L2174.6,361.6 L2177.6,362.1 L2180.5,362.7 L2183.5,363.2 L2186.4,363.8 L2189.4,364.4 L2192.3,365.0 L2195.3,365.6 L2198.3,366.2 L2201.2,366.8 L2204.2,367.5 L2207.1,368.1 L2210.1,368.8 L2213.0,369.5" stroke="#A349A4" stroke-width="8.7" fill="none" stroke-linecap="round" stroke-linejoin="round"/>
<text x="303.5" y="1184.0" font-family="Liberation Serif, DejaVu Serif, serif" font-size="61" text-anchor="middle" fill="#000">40</text>
<text x="526.2" y="1184.0" font-family="Liberation Serif, DejaVu Serif, serif" font-size="61" text-anchor="middle" fill="#000">80</text>
<text x="752.0" y="1184.0" font-family="Liberation Serif, DejaVu Serif, serif" font-size="61" text-anchor="middle" fill="#000">120</text>
<text x="970.0" y="1184.0" font-family="Liberation Serif, DejaVu Serif, serif" font-size="61" text-anchor="middle" fill="#000">160</text>
<text x="1201.0" y="1184.0" font-family="Liberation Serif, DejaVu Serif, serif" font-size="61" text-anchor="middle" fill="#000">200</text>
<text x="1432.0" y="1184.0" font-family="Liberation Serif, DejaVu Serif, serif" font-size="61" text-anchor="middle" fill="#000">240</text>
<text x="1635.0" y="1184.0" font-family="Liberation Serif, DejaVu Serif, serif" font-size="61" text-anchor="middle" fill="#000">280</text>
<text x="1866.5" y="1184.0" font-family="Liberation Serif, DejaVu Serif, serif" font-size="61" text-anchor="middle" fill="#000">320</text>
<text x="2098.0" y="1184.0" font-family="Liberation Serif, DejaVu Serif, serif" font-size="61" text-anchor="middle" fill="#000">360</text>
<text x="235.5" y="79.0" font-family="Liberation Serif, DejaVu Serif, serif" font-size="66.5" text-anchor="end" fill="#000">200</text>
<text x="235.5" y="280.0" font-family="Liberation Serif, DejaVu Serif, serif" font-size="66.5" text-anchor="end" fill="#000">180</text>
<text x="235.5" y="489.8" font-family="Liberation Serif, DejaVu Serif, serif" font-size="66.5" text-anchor="end" fill="#000">160</text>
<text x="235.5" y="701.7" font-family="Liberation Serif, DejaVu Serif, serif" font-size="66.5" text-anchor="end" fill="#000">140</text>
<text x="235.5" y="902.2" font-family="Liberation Serif, DejaVu Serif, serif" font-size="66.5" text-anchor="end" fill="#000">120</text>
<text x="235.5" y="1115.6" font-family="Liberation Serif, DejaVu Serif, serif" font-size="66.5" text-anchor="end" fill="#000">100</text>
<text transform="translate(425.4,409.4) scale(1.04,1)" font-family="Liberation Serif, DejaVu Serif, serif" font-size="59" font-weight="normal" fill="#00A2E8" stroke="#00A2E8" stroke-width="1.4" stroke-linejoin="round">S6</text>
<text transform="translate(680.7,372.1) scale(1.04,1)" font-family="Liberation Serif, DejaVu Serif, serif" font-size="59" font-weight="normal" fill="#ED1C24" stroke="#ED1C24" stroke-width="1.4" stroke-linejoin="round">S4</text>
<text transform="translate(955.1,346.2) scale(1.04,1)" font-family="Liberation Serif, DejaVu Serif, serif" font-size="59" font-weight="normal" fill="#A349A4" stroke="#A349A4" stroke-width="1.4" stroke-linejoin="round">S5</text>
<text transform="translate(780.9,495.4) scale(1.04,1)" font-family="Liberation Serif, DejaVu Serif, serif" font-size="59" font-weight="normal" fill="#FF7F27" stroke="#FF7F27" stroke-width="1.4" stroke-linejoin="round">S7</text>
<text transform="translate(1083.3,528.9) scale(1.04,1)" font-family="Liberation Serif, DejaVu Serif, serif" font-size="59" font-weight="normal" fill="#3F48CC" stroke="#3F48CC" stroke-width="1.4" stroke-linejoin="round">S3</text>
<text transform="translate(1728.0,540.9) scale(1.04,1)" font-family="Liberation Serif, DejaVu Serif, serif" font-size="59" font-weight="normal" fill="#22B14C" stroke="#22B14C" stroke-width="1.4" stroke-linejoin="round">S2</text>
<text transform="translate(2017.0,551.5) scale(1.04,1)" font-family="Liberation Serif, DejaVu Serif, serif" font-size="59" font-weight="normal" fill="#880015" stroke="#880015" stroke-width="1.4" stroke-linejoin="round">S1</text>
<text transform="translate(1121.5,1276.2) scale(0.98,1)" font-family="Liberation Serif, DejaVu Serif, serif" font-size="70" fill="#000"><tspan font-style="italic">T</tspan> (°C)</text>
<text transform="translate(85.9,659.0) rotate(-90) scale(1.12,1)" font-family="Liberation Serif, DejaVu Serif, serif" font-size="67.5" fill="#000">d<tspan font-style="italic">m</tspan>/d<tspan font-style="italic">t</tspan></text>
</svg>
</div></body></html>
